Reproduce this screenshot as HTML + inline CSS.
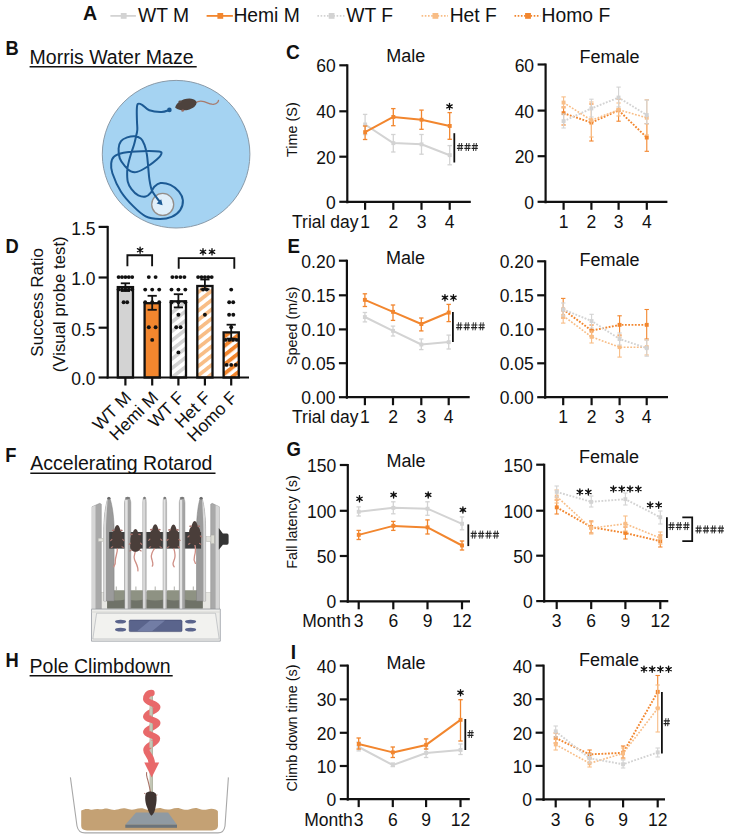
<!DOCTYPE html>
<html><head><meta charset="utf-8"><title>Figure</title>
<style>html,body{margin:0;padding:0;background:#fff;}svg{display:block;}text{font-family:"Liberation Sans",sans-serif;}</style>
</head><body>
<svg width="730" height="840" viewBox="0 0 730 840" font-family="Liberation Sans, sans-serif">
<rect width="730" height="840" fill="#fff"/>
<text x="0" y="0" font-size="19.6" font-weight="bold" fill="#111" transform="translate(83.0,20.3) scale(1.0,1)">A</text>
<line x1="110.4" y1="15.9" x2="135.9" y2="15.9" stroke="#d3d3d3" stroke-width="1.8" />
<rect x="120.8" y="13.0" width="5.8" height="5.8" fill="#d3d3d3"/>
<text x="138.0" y="22.2" font-size="19.3" text-anchor="start" font-weight="normal" fill="#111" >WT M</text>
<line x1="206.6" y1="15.9" x2="232.9" y2="15.9" stroke="#f2862e" stroke-width="1.8" />
<rect x="217.4" y="13.0" width="5.8" height="5.8" fill="#f2862e"/>
<text x="233.4" y="22.2" font-size="19.3" text-anchor="start" font-weight="normal" fill="#111" >Hemi M</text>
<line x1="317.4" y1="15.9" x2="344.5" y2="15.9" stroke="#d3d3d3" stroke-width="1.8" stroke-dasharray="1.6 1.6"/>
<rect x="328.7" y="13.0" width="5.8" height="5.8" fill="#d3d3d3"/>
<text x="346.2" y="22.2" font-size="19.3" text-anchor="start" font-weight="normal" fill="#111" >WT F</text>
<line x1="421.6" y1="15.9" x2="448.0" y2="15.9" stroke="#f8bd86" stroke-width="1.8" stroke-dasharray="1.6 1.6"/>
<rect x="432.5" y="13.0" width="5.8" height="5.8" fill="#f8bd86"/>
<text x="449.7" y="22.2" font-size="19.3" text-anchor="start" font-weight="normal" fill="#111" >Het F</text>
<line x1="514.5" y1="15.9" x2="540.3" y2="15.9" stroke="#f2862e" stroke-width="1.8" stroke-dasharray="1.6 1.6"/>
<rect x="525.1" y="13.0" width="5.8" height="5.8" fill="#f2862e"/>
<text x="541.6" y="22.2" font-size="19.3" text-anchor="start" font-weight="normal" fill="#111" >Homo F</text>
<text x="0" y="0" font-size="20.8" font-weight="bold" fill="#111" transform="translate(5.6,55.3) scale(0.88,1)">B</text>
<text x="29.6" y="64.1" font-size="19.5" text-anchor="start" font-weight="normal" fill="#111" >Morris Water Maze</text>
<line x1="29.6" y1="66.8" x2="196.7" y2="66.8" stroke="#111" stroke-width="1.6" />
<text x="0" y="0" font-size="20.8" font-weight="bold" fill="#111" transform="translate(5.2,462.0) scale(0.88,1)">F</text>
<text x="30.3" y="469.6" font-size="19.5" text-anchor="start" font-weight="normal" fill="#111" >Accelerating Rotarod</text>
<line x1="30.3" y1="473.2" x2="215.5" y2="473.2" stroke="#111" stroke-width="1.6" />
<text x="0" y="0" font-size="20.8" font-weight="bold" fill="#111" transform="translate(5.5,667.1) scale(0.88,1)">H</text>
<text x="29.6" y="672.8" font-size="19.5" text-anchor="start" font-weight="normal" fill="#111" >Pole Climbdown</text>
<line x1="29.6" y1="675.8" x2="172.7" y2="675.8" stroke="#111" stroke-width="1.6" />
<text x="0" y="0" font-size="20.8" font-weight="bold" fill="#111" transform="translate(286.0,59.0) scale(0.92,1)">C</text>
<text x="386.2" y="61.5" font-size="18" text-anchor="start" font-weight="normal" fill="#111" >Male</text>
<text x="579.5" y="62.6" font-size="18" text-anchor="start" font-weight="normal" fill="#111" >Female</text>
<line x1="347.3" y1="64.3" x2="347.3" y2="203.3" stroke="#111" stroke-width="2.2" />
<line x1="346.3" y1="201.8" x2="470.8" y2="201.8" stroke="#111" stroke-width="2.2" />
<line x1="339.3" y1="65.3" x2="347.3" y2="65.3" stroke="#111" stroke-width="2.2" />
<text x="335.8" y="72.3" font-size="17.5" text-anchor="end" font-weight="normal" fill="#111" >60</text>
<line x1="339.3" y1="111.3" x2="347.3" y2="111.3" stroke="#111" stroke-width="2.2" />
<text x="335.8" y="118.3" font-size="17.5" text-anchor="end" font-weight="normal" fill="#111" >40</text>
<line x1="339.3" y1="156.7" x2="347.3" y2="156.7" stroke="#111" stroke-width="2.2" />
<text x="335.8" y="163.7" font-size="17.5" text-anchor="end" font-weight="normal" fill="#111" >20</text>
<line x1="339.3" y1="201.8" x2="347.3" y2="201.8" stroke="#111" stroke-width="2.2" />
<text x="335.8" y="208.8" font-size="17.5" text-anchor="end" font-weight="normal" fill="#111" >0</text>
<line x1="365.1" y1="201.8" x2="365.1" y2="209.8" stroke="#111" stroke-width="2.2" />
<text x="365.1" y="228.2" font-size="17.5" text-anchor="middle" font-weight="normal" fill="#111" >1</text>
<line x1="393.3" y1="201.8" x2="393.3" y2="209.8" stroke="#111" stroke-width="2.2" />
<text x="393.3" y="228.2" font-size="17.5" text-anchor="middle" font-weight="normal" fill="#111" >2</text>
<line x1="421.5" y1="201.8" x2="421.5" y2="209.8" stroke="#111" stroke-width="2.2" />
<text x="421.5" y="228.2" font-size="17.5" text-anchor="middle" font-weight="normal" fill="#111" >3</text>
<line x1="449.7" y1="201.8" x2="449.7" y2="209.8" stroke="#111" stroke-width="2.2" />
<text x="449.7" y="228.2" font-size="17.5" text-anchor="middle" font-weight="normal" fill="#111" >4</text>
<text x="358.5" y="228.2" font-size="17.5" text-anchor="end" font-weight="normal" fill="#111" >Trial day</text>
<text x="0" y="0" font-size="14.4" text-anchor="middle" fill="#111" transform="translate(297.0,129.6) rotate(-90)">Time (S)</text>
<line x1="365.1" y1="114.4" x2="365.1" y2="134.6" stroke="#d3d3d3" stroke-width="1.3" />
<line x1="362.9" y1="114.4" x2="367.3" y2="114.4" stroke="#d3d3d3" stroke-width="1.3" />
<line x1="362.9" y1="134.6" x2="367.3" y2="134.6" stroke="#d3d3d3" stroke-width="1.3" />
<line x1="393.3" y1="134.5" x2="393.3" y2="152.0" stroke="#d3d3d3" stroke-width="1.3" />
<line x1="391.1" y1="134.5" x2="395.5" y2="134.5" stroke="#d3d3d3" stroke-width="1.3" />
<line x1="391.1" y1="152.0" x2="395.5" y2="152.0" stroke="#d3d3d3" stroke-width="1.3" />
<line x1="421.5" y1="134.5" x2="421.5" y2="154.2" stroke="#d3d3d3" stroke-width="1.3" />
<line x1="419.3" y1="134.5" x2="423.7" y2="134.5" stroke="#d3d3d3" stroke-width="1.3" />
<line x1="419.3" y1="154.2" x2="423.7" y2="154.2" stroke="#d3d3d3" stroke-width="1.3" />
<line x1="449.7" y1="145.6" x2="449.7" y2="164.8" stroke="#d3d3d3" stroke-width="1.3" />
<line x1="447.5" y1="145.6" x2="451.9" y2="145.6" stroke="#d3d3d3" stroke-width="1.3" />
<line x1="447.5" y1="164.8" x2="451.9" y2="164.8" stroke="#d3d3d3" stroke-width="1.3" />
<polyline points="365.1,124.5 393.3,143.1 421.5,144.3 449.7,155.2" fill="none" stroke="#d3d3d3" stroke-width="2.0"  stroke-linejoin="round"/>
<rect x="363.2" y="122.5" width="3.9" height="3.9" fill="#d3d3d3"/>
<rect x="391.4" y="141.2" width="3.9" height="3.9" fill="#d3d3d3"/>
<rect x="419.6" y="142.4" width="3.9" height="3.9" fill="#d3d3d3"/>
<rect x="447.8" y="153.2" width="3.9" height="3.9" fill="#d3d3d3"/>
<line x1="365.1" y1="126.0" x2="365.1" y2="139.5" stroke="#f2862e" stroke-width="1.3" />
<line x1="362.9" y1="126.0" x2="367.3" y2="126.0" stroke="#f2862e" stroke-width="1.3" />
<line x1="362.9" y1="139.5" x2="367.3" y2="139.5" stroke="#f2862e" stroke-width="1.3" />
<line x1="393.3" y1="108.6" x2="393.3" y2="125.7" stroke="#f2862e" stroke-width="1.3" />
<line x1="391.1" y1="108.6" x2="395.5" y2="108.6" stroke="#f2862e" stroke-width="1.3" />
<line x1="391.1" y1="125.7" x2="395.5" y2="125.7" stroke="#f2862e" stroke-width="1.3" />
<line x1="421.5" y1="110.1" x2="421.5" y2="129.3" stroke="#f2862e" stroke-width="1.3" />
<line x1="419.3" y1="110.1" x2="423.7" y2="110.1" stroke="#f2862e" stroke-width="1.3" />
<line x1="419.3" y1="129.3" x2="423.7" y2="129.3" stroke="#f2862e" stroke-width="1.3" />
<line x1="449.7" y1="112.6" x2="449.7" y2="139.3" stroke="#f2862e" stroke-width="1.3" />
<line x1="447.5" y1="112.6" x2="451.9" y2="112.6" stroke="#f2862e" stroke-width="1.3" />
<line x1="447.5" y1="139.3" x2="451.9" y2="139.3" stroke="#f2862e" stroke-width="1.3" />
<polyline points="365.1,132.2 393.3,116.9 421.5,119.7 449.7,125.9" fill="none" stroke="#f2862e" stroke-width="2.0"  stroke-linejoin="round"/>
<rect x="363.2" y="130.2" width="3.9" height="3.9" fill="#f2862e"/>
<rect x="391.4" y="115.0" width="3.9" height="3.9" fill="#f2862e"/>
<rect x="419.6" y="117.8" width="3.9" height="3.9" fill="#f2862e"/>
<rect x="447.8" y="124.0" width="3.9" height="3.9" fill="#f2862e"/>
<path d="M449.50,103.30L449.50,109.50M446.82,104.85L452.18,107.95M452.18,104.85L446.82,107.95" stroke="#111" stroke-width="1.35" stroke-linecap="round"/>
<circle cx="449.50" cy="106.40" r="1.35" fill="#111"/>
<line x1="454.3" y1="133.2" x2="454.3" y2="162.5" stroke="#111" stroke-width="1.8" />
<path d="M459.30,143.00L458.70,151.00M461.70,143.00L461.10,151.00" stroke="#2a2a2a" stroke-width="0.95"/>
<path d="M457.10,145.70L463.30,145.70M456.90,148.40L463.10,148.40" stroke="#222" stroke-width="1.2"/>
<path d="M466.65,143.00L466.05,151.00M469.05,143.00L468.45,151.00" stroke="#2a2a2a" stroke-width="0.95"/>
<path d="M464.45,145.70L470.65,145.70M464.25,148.40L470.45,148.40" stroke="#222" stroke-width="1.2"/>
<path d="M474.00,143.00L473.40,151.00M476.40,143.00L475.80,151.00" stroke="#2a2a2a" stroke-width="0.95"/>
<path d="M471.80,145.70L478.00,145.70M471.60,148.40L477.80,148.40" stroke="#222" stroke-width="1.2"/>
<line x1="545.6" y1="63.5" x2="545.6" y2="203.3" stroke="#111" stroke-width="2.2" />
<line x1="544.6" y1="201.8" x2="667.4" y2="201.8" stroke="#111" stroke-width="2.2" />
<line x1="537.6" y1="64.5" x2="545.6" y2="64.5" stroke="#111" stroke-width="2.2" />
<text x="534.1" y="71.5" font-size="17.5" text-anchor="end" font-weight="normal" fill="#111" >60</text>
<line x1="537.6" y1="110.6" x2="545.6" y2="110.6" stroke="#111" stroke-width="2.2" />
<text x="534.1" y="117.6" font-size="17.5" text-anchor="end" font-weight="normal" fill="#111" >40</text>
<line x1="537.6" y1="156.2" x2="545.6" y2="156.2" stroke="#111" stroke-width="2.2" />
<text x="534.1" y="163.2" font-size="17.5" text-anchor="end" font-weight="normal" fill="#111" >20</text>
<line x1="537.6" y1="201.8" x2="545.6" y2="201.8" stroke="#111" stroke-width="2.2" />
<text x="534.1" y="208.8" font-size="17.5" text-anchor="end" font-weight="normal" fill="#111" >0</text>
<line x1="563.6" y1="201.8" x2="563.6" y2="209.8" stroke="#111" stroke-width="2.2" />
<text x="563.6" y="228.2" font-size="17.5" text-anchor="middle" font-weight="normal" fill="#111" >1</text>
<line x1="591.4" y1="201.8" x2="591.4" y2="209.8" stroke="#111" stroke-width="2.2" />
<text x="591.4" y="228.2" font-size="17.5" text-anchor="middle" font-weight="normal" fill="#111" >2</text>
<line x1="618.6" y1="201.8" x2="618.6" y2="209.8" stroke="#111" stroke-width="2.2" />
<text x="618.6" y="228.2" font-size="17.5" text-anchor="middle" font-weight="normal" fill="#111" >3</text>
<line x1="646.8" y1="201.8" x2="646.8" y2="209.8" stroke="#111" stroke-width="2.2" />
<text x="646.8" y="228.2" font-size="17.5" text-anchor="middle" font-weight="normal" fill="#111" >4</text>
<line x1="563.6" y1="107.0" x2="563.6" y2="125.0" stroke="#f2862e" stroke-width="1.1" />
<line x1="561.4" y1="107.0" x2="565.8" y2="107.0" stroke="#f2862e" stroke-width="1.1" />
<line x1="561.4" y1="125.0" x2="565.8" y2="125.0" stroke="#f2862e" stroke-width="1.1" />
<line x1="591.4" y1="104.0" x2="591.4" y2="141.0" stroke="#f2862e" stroke-width="1.1" />
<line x1="589.2" y1="104.0" x2="593.6" y2="104.0" stroke="#f2862e" stroke-width="1.1" />
<line x1="589.2" y1="141.0" x2="593.6" y2="141.0" stroke="#f2862e" stroke-width="1.1" />
<line x1="618.6" y1="99.0" x2="618.6" y2="121.2" stroke="#f2862e" stroke-width="1.1" />
<line x1="616.4" y1="99.0" x2="620.8" y2="99.0" stroke="#f2862e" stroke-width="1.1" />
<line x1="616.4" y1="121.2" x2="620.8" y2="121.2" stroke="#f2862e" stroke-width="1.1" />
<line x1="646.8" y1="123.7" x2="646.8" y2="151.3" stroke="#f2862e" stroke-width="1.1" />
<line x1="644.6" y1="123.7" x2="649.0" y2="123.7" stroke="#f2862e" stroke-width="1.1" />
<line x1="644.6" y1="151.3" x2="649.0" y2="151.3" stroke="#f2862e" stroke-width="1.1" />
<polyline points="563.6,113.2 591.4,122.6 618.6,110.3 646.8,137.5" fill="none" stroke="#f2862e" stroke-width="1.9" stroke-dasharray="1.8 1.5" stroke-linejoin="round"/>
<rect x="561.6" y="111.2" width="3.9" height="3.9" fill="#f2862e"/>
<rect x="589.4" y="120.6" width="3.9" height="3.9" fill="#f2862e"/>
<rect x="616.6" y="108.3" width="3.9" height="3.9" fill="#f2862e"/>
<rect x="644.8" y="135.6" width="3.9" height="3.9" fill="#f2862e"/>
<line x1="563.6" y1="96.9" x2="563.6" y2="108.0" stroke="#f8bd86" stroke-width="1.1" />
<line x1="561.4" y1="96.9" x2="565.8" y2="96.9" stroke="#f8bd86" stroke-width="1.1" />
<line x1="561.4" y1="108.0" x2="565.8" y2="108.0" stroke="#f8bd86" stroke-width="1.1" />
<line x1="591.4" y1="102.0" x2="591.4" y2="137.0" stroke="#f8bd86" stroke-width="1.1" />
<line x1="589.2" y1="102.0" x2="593.6" y2="102.0" stroke="#f8bd86" stroke-width="1.1" />
<line x1="589.2" y1="137.0" x2="593.6" y2="137.0" stroke="#f8bd86" stroke-width="1.1" />
<line x1="618.6" y1="103.0" x2="618.6" y2="116.0" stroke="#f8bd86" stroke-width="1.1" />
<line x1="616.4" y1="103.0" x2="620.8" y2="103.0" stroke="#f8bd86" stroke-width="1.1" />
<line x1="616.4" y1="116.0" x2="620.8" y2="116.0" stroke="#f8bd86" stroke-width="1.1" />
<line x1="646.8" y1="99.8" x2="646.8" y2="135.0" stroke="#f8bd86" stroke-width="1.1" />
<line x1="644.6" y1="99.8" x2="649.0" y2="99.8" stroke="#f8bd86" stroke-width="1.1" />
<line x1="644.6" y1="135.0" x2="649.0" y2="135.0" stroke="#f8bd86" stroke-width="1.1" />
<polyline points="563.6,102.6 591.4,120.3 618.6,109.7 646.8,117.8" fill="none" stroke="#f8bd86" stroke-width="1.6" stroke-dasharray="1.8 1.5" stroke-linejoin="round"/>
<rect x="561.6" y="100.6" width="3.9" height="3.9" fill="#f8bd86"/>
<rect x="589.4" y="118.3" width="3.9" height="3.9" fill="#f8bd86"/>
<rect x="616.6" y="107.8" width="3.9" height="3.9" fill="#f8bd86"/>
<rect x="644.8" y="115.8" width="3.9" height="3.9" fill="#f8bd86"/>
<line x1="563.6" y1="114.0" x2="563.6" y2="128.0" stroke="#d3d3d3" stroke-width="1.1" />
<line x1="561.4" y1="114.0" x2="565.8" y2="114.0" stroke="#d3d3d3" stroke-width="1.1" />
<line x1="561.4" y1="128.0" x2="565.8" y2="128.0" stroke="#d3d3d3" stroke-width="1.1" />
<line x1="591.4" y1="99.2" x2="591.4" y2="117.0" stroke="#d3d3d3" stroke-width="1.1" />
<line x1="589.2" y1="99.2" x2="593.6" y2="99.2" stroke="#d3d3d3" stroke-width="1.1" />
<line x1="589.2" y1="117.0" x2="593.6" y2="117.0" stroke="#d3d3d3" stroke-width="1.1" />
<line x1="618.6" y1="87.1" x2="618.6" y2="106.9" stroke="#d3d3d3" stroke-width="1.1" />
<line x1="616.4" y1="87.1" x2="620.8" y2="87.1" stroke="#d3d3d3" stroke-width="1.1" />
<line x1="616.4" y1="106.9" x2="620.8" y2="106.9" stroke="#d3d3d3" stroke-width="1.1" />
<line x1="646.8" y1="100.1" x2="646.8" y2="123.7" stroke="#d3d3d3" stroke-width="1.1" />
<line x1="644.6" y1="100.1" x2="649.0" y2="100.1" stroke="#d3d3d3" stroke-width="1.1" />
<line x1="644.6" y1="123.7" x2="649.0" y2="123.7" stroke="#d3d3d3" stroke-width="1.1" />
<polyline points="563.6,121.2 591.4,108.4 618.6,97.6 646.8,115.1" fill="none" stroke="#d3d3d3" stroke-width="1.9" stroke-dasharray="1.8 1.5" stroke-linejoin="round"/>
<rect x="561.6" y="119.2" width="3.9" height="3.9" fill="#d3d3d3"/>
<rect x="589.4" y="106.5" width="3.9" height="3.9" fill="#d3d3d3"/>
<rect x="616.6" y="95.6" width="3.9" height="3.9" fill="#d3d3d3"/>
<rect x="644.8" y="113.1" width="3.9" height="3.9" fill="#d3d3d3"/>
<text x="0" y="0" font-size="20.8" font-weight="bold" fill="#111" transform="translate(287.6,252.6) scale(0.9,1)">E</text>
<text x="386.0" y="264.3" font-size="18" text-anchor="start" font-weight="normal" fill="#111" >Male</text>
<text x="579.6" y="265.8" font-size="18" text-anchor="start" font-weight="normal" fill="#111" >Female</text>
<line x1="346.9" y1="259.7" x2="346.9" y2="398.7" stroke="#111" stroke-width="2.2" />
<line x1="345.9" y1="397.2" x2="469.7" y2="397.2" stroke="#111" stroke-width="2.2" />
<line x1="338.9" y1="260.7" x2="346.9" y2="260.7" stroke="#111" stroke-width="2.2" />
<text x="335.4" y="267.7" font-size="17.5" text-anchor="end" font-weight="normal" fill="#111" >0.20</text>
<line x1="338.9" y1="295.3" x2="346.9" y2="295.3" stroke="#111" stroke-width="2.2" />
<text x="335.4" y="302.3" font-size="17.5" text-anchor="end" font-weight="normal" fill="#111" >0.15</text>
<line x1="338.9" y1="329.4" x2="346.9" y2="329.4" stroke="#111" stroke-width="2.2" />
<text x="335.4" y="336.4" font-size="17.5" text-anchor="end" font-weight="normal" fill="#111" >0.10</text>
<line x1="338.9" y1="363.2" x2="346.9" y2="363.2" stroke="#111" stroke-width="2.2" />
<text x="335.4" y="370.2" font-size="17.5" text-anchor="end" font-weight="normal" fill="#111" >0.05</text>
<line x1="338.9" y1="397.2" x2="346.9" y2="397.2" stroke="#111" stroke-width="2.2" />
<text x="335.4" y="404.2" font-size="17.5" text-anchor="end" font-weight="normal" fill="#111" >0.00</text>
<line x1="364.9" y1="397.2" x2="364.9" y2="405.2" stroke="#111" stroke-width="2.2" />
<text x="364.9" y="423.2" font-size="17.5" text-anchor="middle" font-weight="normal" fill="#111" >1</text>
<line x1="393.0" y1="397.2" x2="393.0" y2="405.2" stroke="#111" stroke-width="2.2" />
<text x="393.0" y="423.2" font-size="17.5" text-anchor="middle" font-weight="normal" fill="#111" >2</text>
<line x1="421.3" y1="397.2" x2="421.3" y2="405.2" stroke="#111" stroke-width="2.2" />
<text x="421.3" y="423.2" font-size="17.5" text-anchor="middle" font-weight="normal" fill="#111" >3</text>
<line x1="448.7" y1="397.2" x2="448.7" y2="405.2" stroke="#111" stroke-width="2.2" />
<text x="448.7" y="423.2" font-size="17.5" text-anchor="middle" font-weight="normal" fill="#111" >4</text>
<text x="358.5" y="423.2" font-size="17.5" text-anchor="end" font-weight="normal" fill="#111" >Trial day</text>
<text x="0" y="0" font-size="14.4" text-anchor="middle" fill="#111" transform="translate(297.0,326.0) rotate(-90)">Speed (m/s)</text>
<line x1="364.9" y1="312.5" x2="364.9" y2="321.9" stroke="#d3d3d3" stroke-width="1.3" />
<line x1="362.7" y1="312.5" x2="367.1" y2="312.5" stroke="#d3d3d3" stroke-width="1.3" />
<line x1="362.7" y1="321.9" x2="367.1" y2="321.9" stroke="#d3d3d3" stroke-width="1.3" />
<line x1="393.0" y1="326.1" x2="393.0" y2="336.0" stroke="#d3d3d3" stroke-width="1.3" />
<line x1="390.8" y1="326.1" x2="395.2" y2="326.1" stroke="#d3d3d3" stroke-width="1.3" />
<line x1="390.8" y1="336.0" x2="395.2" y2="336.0" stroke="#d3d3d3" stroke-width="1.3" />
<line x1="421.3" y1="339.0" x2="421.3" y2="349.6" stroke="#d3d3d3" stroke-width="1.3" />
<line x1="419.1" y1="339.0" x2="423.5" y2="339.0" stroke="#d3d3d3" stroke-width="1.3" />
<line x1="419.1" y1="349.6" x2="423.5" y2="349.6" stroke="#d3d3d3" stroke-width="1.3" />
<line x1="448.7" y1="335.1" x2="448.7" y2="349.0" stroke="#d3d3d3" stroke-width="1.3" />
<line x1="446.5" y1="335.1" x2="450.9" y2="335.1" stroke="#d3d3d3" stroke-width="1.3" />
<line x1="446.5" y1="349.0" x2="450.9" y2="349.0" stroke="#d3d3d3" stroke-width="1.3" />
<polyline points="364.9,317.0 393.0,330.9 421.3,344.5 448.7,342.1" fill="none" stroke="#d3d3d3" stroke-width="2.0"  stroke-linejoin="round"/>
<rect x="362.9" y="315.1" width="3.9" height="3.9" fill="#d3d3d3"/>
<rect x="391.1" y="328.9" width="3.9" height="3.9" fill="#d3d3d3"/>
<rect x="419.4" y="342.6" width="3.9" height="3.9" fill="#d3d3d3"/>
<rect x="446.8" y="340.2" width="3.9" height="3.9" fill="#d3d3d3"/>
<line x1="364.9" y1="293.8" x2="364.9" y2="306.5" stroke="#f2862e" stroke-width="1.3" />
<line x1="362.7" y1="293.8" x2="367.1" y2="293.8" stroke="#f2862e" stroke-width="1.3" />
<line x1="362.7" y1="306.5" x2="367.1" y2="306.5" stroke="#f2862e" stroke-width="1.3" />
<line x1="393.0" y1="305.0" x2="393.0" y2="320.4" stroke="#f2862e" stroke-width="1.3" />
<line x1="390.8" y1="305.0" x2="395.2" y2="305.0" stroke="#f2862e" stroke-width="1.3" />
<line x1="390.8" y1="320.4" x2="395.2" y2="320.4" stroke="#f2862e" stroke-width="1.3" />
<line x1="421.3" y1="318.0" x2="421.3" y2="330.9" stroke="#f2862e" stroke-width="1.3" />
<line x1="419.1" y1="318.0" x2="423.5" y2="318.0" stroke="#f2862e" stroke-width="1.3" />
<line x1="419.1" y1="330.9" x2="423.5" y2="330.9" stroke="#f2862e" stroke-width="1.3" />
<line x1="448.7" y1="304.4" x2="448.7" y2="321.6" stroke="#f2862e" stroke-width="1.3" />
<line x1="446.5" y1="304.4" x2="450.9" y2="304.4" stroke="#f2862e" stroke-width="1.3" />
<line x1="446.5" y1="321.6" x2="450.9" y2="321.6" stroke="#f2862e" stroke-width="1.3" />
<polyline points="364.9,299.9 393.0,311.9 421.3,324.0 448.7,312.5" fill="none" stroke="#f2862e" stroke-width="2.0"  stroke-linejoin="round"/>
<rect x="362.9" y="297.9" width="3.9" height="3.9" fill="#f2862e"/>
<rect x="391.1" y="309.9" width="3.9" height="3.9" fill="#f2862e"/>
<rect x="419.4" y="322.1" width="3.9" height="3.9" fill="#f2862e"/>
<rect x="446.8" y="310.6" width="3.9" height="3.9" fill="#f2862e"/>
<path d="M444.95,294.60L444.95,300.80M442.27,296.15L447.63,299.25M447.63,296.15L442.27,299.25" stroke="#111" stroke-width="1.35" stroke-linecap="round"/>
<circle cx="444.95" cy="297.70" r="1.35" fill="#111"/>
<path d="M453.45,294.60L453.45,300.80M450.77,296.15L456.13,299.25M456.13,296.15L450.77,299.25" stroke="#111" stroke-width="1.35" stroke-linecap="round"/>
<circle cx="453.45" cy="297.70" r="1.35" fill="#111"/>
<line x1="452.9" y1="311.9" x2="452.9" y2="342.1" stroke="#111" stroke-width="1.8" />
<path d="M458.50,322.30L457.90,330.30M460.90,322.30L460.30,330.30" stroke="#2a2a2a" stroke-width="0.95"/>
<path d="M456.30,325.00L462.50,325.00M456.10,327.70L462.30,327.70" stroke="#222" stroke-width="1.2"/>
<path d="M465.95,322.30L465.35,330.30M468.35,322.30L467.75,330.30" stroke="#2a2a2a" stroke-width="0.95"/>
<path d="M463.75,325.00L469.95,325.00M463.55,327.70L469.75,327.70" stroke="#222" stroke-width="1.2"/>
<path d="M473.40,322.30L472.80,330.30M475.80,322.30L475.20,330.30" stroke="#2a2a2a" stroke-width="0.95"/>
<path d="M471.20,325.00L477.40,325.00M471.00,327.70L477.20,327.70" stroke="#222" stroke-width="1.2"/>
<path d="M480.85,322.30L480.25,330.30M483.25,322.30L482.65,330.30" stroke="#2a2a2a" stroke-width="0.95"/>
<path d="M478.65,325.00L484.85,325.00M478.45,327.70L484.65,327.70" stroke="#222" stroke-width="1.2"/>
<line x1="545.2" y1="260.3" x2="545.2" y2="398.7" stroke="#111" stroke-width="2.2" />
<line x1="544.2" y1="397.2" x2="668.0" y2="397.2" stroke="#111" stroke-width="2.2" />
<line x1="537.2" y1="261.3" x2="545.2" y2="261.3" stroke="#111" stroke-width="2.2" />
<text x="533.7" y="268.3" font-size="17.5" text-anchor="end" font-weight="normal" fill="#111" >0.20</text>
<line x1="537.2" y1="295.3" x2="545.2" y2="295.3" stroke="#111" stroke-width="2.2" />
<text x="533.7" y="302.3" font-size="17.5" text-anchor="end" font-weight="normal" fill="#111" >0.15</text>
<line x1="537.2" y1="329.3" x2="545.2" y2="329.3" stroke="#111" stroke-width="2.2" />
<text x="533.7" y="336.3" font-size="17.5" text-anchor="end" font-weight="normal" fill="#111" >0.10</text>
<line x1="537.2" y1="363.3" x2="545.2" y2="363.3" stroke="#111" stroke-width="2.2" />
<text x="533.7" y="370.3" font-size="17.5" text-anchor="end" font-weight="normal" fill="#111" >0.05</text>
<line x1="537.2" y1="397.2" x2="545.2" y2="397.2" stroke="#111" stroke-width="2.2" />
<text x="533.7" y="404.2" font-size="17.5" text-anchor="end" font-weight="normal" fill="#111" >0.00</text>
<line x1="563.2" y1="397.2" x2="563.2" y2="405.2" stroke="#111" stroke-width="2.2" />
<text x="563.2" y="423.2" font-size="17.5" text-anchor="middle" font-weight="normal" fill="#111" >1</text>
<line x1="591.6" y1="397.2" x2="591.6" y2="405.2" stroke="#111" stroke-width="2.2" />
<text x="591.6" y="423.2" font-size="17.5" text-anchor="middle" font-weight="normal" fill="#111" >2</text>
<line x1="619.6" y1="397.2" x2="619.6" y2="405.2" stroke="#111" stroke-width="2.2" />
<text x="619.6" y="423.2" font-size="17.5" text-anchor="middle" font-weight="normal" fill="#111" >3</text>
<line x1="646.7" y1="397.2" x2="646.7" y2="405.2" stroke="#111" stroke-width="2.2" />
<text x="646.7" y="423.2" font-size="17.5" text-anchor="middle" font-weight="normal" fill="#111" >4</text>
<line x1="563.2" y1="298.4" x2="563.2" y2="318.0" stroke="#f2862e" stroke-width="1.1" />
<line x1="561.0" y1="298.4" x2="565.4" y2="298.4" stroke="#f2862e" stroke-width="1.1" />
<line x1="561.0" y1="318.0" x2="565.4" y2="318.0" stroke="#f2862e" stroke-width="1.1" />
<line x1="591.6" y1="325.0" x2="591.6" y2="336.0" stroke="#f2862e" stroke-width="1.1" />
<line x1="589.4" y1="325.0" x2="593.8" y2="325.0" stroke="#f2862e" stroke-width="1.1" />
<line x1="589.4" y1="336.0" x2="593.8" y2="336.0" stroke="#f2862e" stroke-width="1.1" />
<line x1="619.6" y1="315.8" x2="619.6" y2="335.1" stroke="#f2862e" stroke-width="1.1" />
<line x1="617.4" y1="315.8" x2="621.8" y2="315.8" stroke="#f2862e" stroke-width="1.1" />
<line x1="617.4" y1="335.1" x2="621.8" y2="335.1" stroke="#f2862e" stroke-width="1.1" />
<line x1="646.7" y1="309.5" x2="646.7" y2="339.0" stroke="#f2862e" stroke-width="1.1" />
<line x1="644.5" y1="309.5" x2="648.9" y2="309.5" stroke="#f2862e" stroke-width="1.1" />
<line x1="644.5" y1="339.0" x2="648.9" y2="339.0" stroke="#f2862e" stroke-width="1.1" />
<polyline points="563.2,309.5 591.6,330.6 619.6,324.9 646.7,324.9" fill="none" stroke="#f2862e" stroke-width="1.9" stroke-dasharray="1.8 1.5" stroke-linejoin="round"/>
<rect x="561.2" y="307.6" width="3.9" height="3.9" fill="#f2862e"/>
<rect x="589.6" y="328.7" width="3.9" height="3.9" fill="#f2862e"/>
<rect x="617.6" y="322.9" width="3.9" height="3.9" fill="#f2862e"/>
<rect x="644.8" y="322.9" width="3.9" height="3.9" fill="#f2862e"/>
<line x1="563.2" y1="309.0" x2="563.2" y2="323.1" stroke="#f8bd86" stroke-width="1.1" />
<line x1="561.0" y1="309.0" x2="565.4" y2="309.0" stroke="#f8bd86" stroke-width="1.1" />
<line x1="561.0" y1="323.1" x2="565.4" y2="323.1" stroke="#f8bd86" stroke-width="1.1" />
<line x1="591.6" y1="331.0" x2="591.6" y2="343.0" stroke="#f8bd86" stroke-width="1.1" />
<line x1="589.4" y1="331.0" x2="593.8" y2="331.0" stroke="#f8bd86" stroke-width="1.1" />
<line x1="589.4" y1="343.0" x2="593.8" y2="343.0" stroke="#f8bd86" stroke-width="1.1" />
<line x1="619.6" y1="337.0" x2="619.6" y2="357.1" stroke="#f8bd86" stroke-width="1.1" />
<line x1="617.4" y1="337.0" x2="621.8" y2="337.0" stroke="#f8bd86" stroke-width="1.1" />
<line x1="617.4" y1="357.1" x2="621.8" y2="357.1" stroke="#f8bd86" stroke-width="1.1" />
<line x1="646.7" y1="340.0" x2="646.7" y2="355.0" stroke="#f8bd86" stroke-width="1.1" />
<line x1="644.5" y1="340.0" x2="648.9" y2="340.0" stroke="#f8bd86" stroke-width="1.1" />
<line x1="644.5" y1="355.0" x2="648.9" y2="355.0" stroke="#f8bd86" stroke-width="1.1" />
<polyline points="563.2,315.8 591.6,336.9 619.6,347.2 646.7,347.2" fill="none" stroke="#f8bd86" stroke-width="1.6" stroke-dasharray="1.8 1.5" stroke-linejoin="round"/>
<rect x="561.2" y="313.9" width="3.9" height="3.9" fill="#f8bd86"/>
<rect x="589.6" y="334.9" width="3.9" height="3.9" fill="#f8bd86"/>
<rect x="617.6" y="345.2" width="3.9" height="3.9" fill="#f8bd86"/>
<rect x="644.8" y="345.2" width="3.9" height="3.9" fill="#f8bd86"/>
<line x1="563.2" y1="303.0" x2="563.2" y2="316.0" stroke="#d3d3d3" stroke-width="1.1" />
<line x1="561.0" y1="303.0" x2="565.4" y2="303.0" stroke="#d3d3d3" stroke-width="1.1" />
<line x1="561.0" y1="316.0" x2="565.4" y2="316.0" stroke="#d3d3d3" stroke-width="1.1" />
<line x1="591.6" y1="314.3" x2="591.6" y2="328.0" stroke="#d3d3d3" stroke-width="1.1" />
<line x1="589.4" y1="314.3" x2="593.8" y2="314.3" stroke="#d3d3d3" stroke-width="1.1" />
<line x1="589.4" y1="328.0" x2="593.8" y2="328.0" stroke="#d3d3d3" stroke-width="1.1" />
<line x1="619.6" y1="333.0" x2="619.6" y2="345.0" stroke="#d3d3d3" stroke-width="1.1" />
<line x1="617.4" y1="333.0" x2="621.8" y2="333.0" stroke="#d3d3d3" stroke-width="1.1" />
<line x1="617.4" y1="345.0" x2="621.8" y2="345.0" stroke="#d3d3d3" stroke-width="1.1" />
<line x1="646.7" y1="340.0" x2="646.7" y2="356.2" stroke="#d3d3d3" stroke-width="1.1" />
<line x1="644.5" y1="340.0" x2="648.9" y2="340.0" stroke="#d3d3d3" stroke-width="1.1" />
<line x1="644.5" y1="356.2" x2="648.9" y2="356.2" stroke="#d3d3d3" stroke-width="1.1" />
<polyline points="563.2,309.5 591.6,321.0 619.6,339.0 646.7,348.1" fill="none" stroke="#d3d3d3" stroke-width="1.9" stroke-dasharray="1.8 1.5" stroke-linejoin="round"/>
<rect x="561.2" y="307.6" width="3.9" height="3.9" fill="#d3d3d3"/>
<rect x="589.6" y="319.1" width="3.9" height="3.9" fill="#d3d3d3"/>
<rect x="617.6" y="337.1" width="3.9" height="3.9" fill="#d3d3d3"/>
<rect x="644.8" y="346.2" width="3.9" height="3.9" fill="#d3d3d3"/>
<text x="0" y="0" font-size="20.8" font-weight="bold" fill="#111" transform="translate(286.4,456.4) scale(0.89,1)">G</text>
<text x="386.6" y="466.5" font-size="18" text-anchor="start" font-weight="normal" fill="#111" >Male</text>
<text x="579.0" y="463.0" font-size="18" text-anchor="start" font-weight="normal" fill="#111" >Female</text>
<line x1="347.8" y1="464.0" x2="347.8" y2="602.8" stroke="#111" stroke-width="2.2" />
<line x1="346.8" y1="601.3" x2="470.0" y2="601.3" stroke="#111" stroke-width="2.2" />
<line x1="339.8" y1="465.0" x2="347.8" y2="465.0" stroke="#111" stroke-width="2.2" />
<text x="336.3" y="472.0" font-size="17.5" text-anchor="end" font-weight="normal" fill="#111" >150</text>
<line x1="339.8" y1="510.8" x2="347.8" y2="510.8" stroke="#111" stroke-width="2.2" />
<text x="336.3" y="517.8" font-size="17.5" text-anchor="end" font-weight="normal" fill="#111" >100</text>
<line x1="339.8" y1="556.0" x2="347.8" y2="556.0" stroke="#111" stroke-width="2.2" />
<text x="336.3" y="563.0" font-size="17.5" text-anchor="end" font-weight="normal" fill="#111" >50</text>
<line x1="339.8" y1="601.3" x2="347.8" y2="601.3" stroke="#111" stroke-width="2.2" />
<text x="336.3" y="608.3" font-size="17.5" text-anchor="end" font-weight="normal" fill="#111" >0</text>
<line x1="358.7" y1="601.3" x2="358.7" y2="609.3" stroke="#111" stroke-width="2.2" />
<text x="358.7" y="626.6" font-size="17.5" text-anchor="middle" font-weight="normal" fill="#111" >3</text>
<line x1="393.3" y1="601.3" x2="393.3" y2="609.3" stroke="#111" stroke-width="2.2" />
<text x="393.3" y="626.6" font-size="17.5" text-anchor="middle" font-weight="normal" fill="#111" >6</text>
<line x1="427.5" y1="601.3" x2="427.5" y2="609.3" stroke="#111" stroke-width="2.2" />
<text x="427.5" y="626.6" font-size="17.5" text-anchor="middle" font-weight="normal" fill="#111" >9</text>
<line x1="462.0" y1="601.3" x2="462.0" y2="609.3" stroke="#111" stroke-width="2.2" />
<text x="462.0" y="626.6" font-size="17.5" text-anchor="middle" font-weight="normal" fill="#111" >12</text>
<text x="350.9" y="626.6" font-size="17.5" text-anchor="end" font-weight="normal" fill="#111" >Month</text>
<text x="0" y="0" font-size="14.4" text-anchor="middle" fill="#111" transform="translate(297.0,522.0) rotate(-90)">Fall latency (s)</text>
<line x1="358.7" y1="506.9" x2="358.7" y2="516.0" stroke="#d3d3d3" stroke-width="1.3" />
<line x1="356.5" y1="506.9" x2="360.9" y2="506.9" stroke="#d3d3d3" stroke-width="1.3" />
<line x1="356.5" y1="516.0" x2="360.9" y2="516.0" stroke="#d3d3d3" stroke-width="1.3" />
<line x1="393.3" y1="501.8" x2="393.3" y2="513.8" stroke="#d3d3d3" stroke-width="1.3" />
<line x1="391.1" y1="501.8" x2="395.5" y2="501.8" stroke="#d3d3d3" stroke-width="1.3" />
<line x1="391.1" y1="513.8" x2="395.5" y2="513.8" stroke="#d3d3d3" stroke-width="1.3" />
<line x1="427.5" y1="501.8" x2="427.5" y2="515.3" stroke="#d3d3d3" stroke-width="1.3" />
<line x1="425.3" y1="501.8" x2="429.7" y2="501.8" stroke="#d3d3d3" stroke-width="1.3" />
<line x1="425.3" y1="515.3" x2="429.7" y2="515.3" stroke="#d3d3d3" stroke-width="1.3" />
<line x1="462.0" y1="516.9" x2="462.0" y2="529.8" stroke="#d3d3d3" stroke-width="1.3" />
<line x1="459.8" y1="516.9" x2="464.2" y2="516.9" stroke="#d3d3d3" stroke-width="1.3" />
<line x1="459.8" y1="529.8" x2="464.2" y2="529.8" stroke="#d3d3d3" stroke-width="1.3" />
<polyline points="358.7,511.7 393.3,507.8 427.5,508.7 462.0,523.8" fill="none" stroke="#d3d3d3" stroke-width="2.0"  stroke-linejoin="round"/>
<rect x="356.8" y="509.8" width="3.9" height="3.9" fill="#d3d3d3"/>
<rect x="391.4" y="505.9" width="3.9" height="3.9" fill="#d3d3d3"/>
<rect x="425.6" y="506.8" width="3.9" height="3.9" fill="#d3d3d3"/>
<rect x="460.1" y="521.8" width="3.9" height="3.9" fill="#d3d3d3"/>
<line x1="358.7" y1="530.4" x2="358.7" y2="539.5" stroke="#f2862e" stroke-width="1.3" />
<line x1="356.5" y1="530.4" x2="360.9" y2="530.4" stroke="#f2862e" stroke-width="1.3" />
<line x1="356.5" y1="539.5" x2="360.9" y2="539.5" stroke="#f2862e" stroke-width="1.3" />
<line x1="393.3" y1="521.4" x2="393.3" y2="530.4" stroke="#f2862e" stroke-width="1.3" />
<line x1="391.1" y1="521.4" x2="395.5" y2="521.4" stroke="#f2862e" stroke-width="1.3" />
<line x1="391.1" y1="530.4" x2="395.5" y2="530.4" stroke="#f2862e" stroke-width="1.3" />
<line x1="427.5" y1="519.9" x2="427.5" y2="534.0" stroke="#f2862e" stroke-width="1.3" />
<line x1="425.3" y1="519.9" x2="429.7" y2="519.9" stroke="#f2862e" stroke-width="1.3" />
<line x1="425.3" y1="534.0" x2="429.7" y2="534.0" stroke="#f2862e" stroke-width="1.3" />
<line x1="462.0" y1="541.0" x2="462.0" y2="550.0" stroke="#f2862e" stroke-width="1.3" />
<line x1="459.8" y1="541.0" x2="464.2" y2="541.0" stroke="#f2862e" stroke-width="1.3" />
<line x1="459.8" y1="550.0" x2="464.2" y2="550.0" stroke="#f2862e" stroke-width="1.3" />
<polyline points="358.7,534.9 393.3,525.9 427.5,527.4 462.0,545.5" fill="none" stroke="#f2862e" stroke-width="2.0"  stroke-linejoin="round"/>
<rect x="356.8" y="532.9" width="3.9" height="3.9" fill="#f2862e"/>
<rect x="391.4" y="523.9" width="3.9" height="3.9" fill="#f2862e"/>
<rect x="425.6" y="525.4" width="3.9" height="3.9" fill="#f2862e"/>
<rect x="460.1" y="543.5" width="3.9" height="3.9" fill="#f2862e"/>
<path d="M359.50,495.70L359.50,501.90M356.82,497.25L362.18,500.35M362.18,497.25L356.82,500.35" stroke="#111" stroke-width="1.35" stroke-linecap="round"/>
<circle cx="359.50" cy="498.80" r="1.35" fill="#111"/>
<path d="M393.60,491.80L393.60,498.00M390.92,493.35L396.28,496.45M396.28,493.35L390.92,496.45" stroke="#111" stroke-width="1.35" stroke-linecap="round"/>
<circle cx="393.60" cy="494.90" r="1.35" fill="#111"/>
<path d="M428.20,491.80L428.20,498.00M425.52,493.35L430.88,496.45M430.88,493.35L425.52,496.45" stroke="#111" stroke-width="1.35" stroke-linecap="round"/>
<circle cx="428.20" cy="494.90" r="1.35" fill="#111"/>
<path d="M462.90,506.80L462.90,513.00M460.22,508.35L465.58,511.45M465.58,508.35L460.22,511.45" stroke="#111" stroke-width="1.35" stroke-linecap="round"/>
<circle cx="462.90" cy="509.90" r="1.35" fill="#111"/>
<line x1="468.3" y1="524.4" x2="468.3" y2="546.1" stroke="#111" stroke-width="1.8" />
<path d="M472.90,530.60L472.30,538.60M475.30,530.60L474.70,538.60" stroke="#2a2a2a" stroke-width="0.95"/>
<path d="M470.70,533.30L476.90,533.30M470.50,536.00L476.70,536.00" stroke="#222" stroke-width="1.2"/>
<path d="M480.30,530.60L479.70,538.60M482.70,530.60L482.10,538.60" stroke="#2a2a2a" stroke-width="0.95"/>
<path d="M478.10,533.30L484.30,533.30M477.90,536.00L484.10,536.00" stroke="#222" stroke-width="1.2"/>
<path d="M487.70,530.60L487.10,538.60M490.10,530.60L489.50,538.60" stroke="#2a2a2a" stroke-width="0.95"/>
<path d="M485.50,533.30L491.70,533.30M485.30,536.00L491.50,536.00" stroke="#222" stroke-width="1.2"/>
<path d="M495.10,530.60L494.50,538.60M497.50,530.60L496.90,538.60" stroke="#2a2a2a" stroke-width="0.95"/>
<path d="M492.90,533.30L499.10,533.30M492.70,536.00L498.90,536.00" stroke="#222" stroke-width="1.2"/>
<line x1="544.2" y1="463.7" x2="544.2" y2="602.6" stroke="#111" stroke-width="2.2" />
<line x1="543.2" y1="601.1" x2="668.3" y2="601.1" stroke="#111" stroke-width="2.2" />
<line x1="536.2" y1="464.7" x2="544.2" y2="464.7" stroke="#111" stroke-width="2.2" />
<text x="532.7" y="471.7" font-size="17.5" text-anchor="end" font-weight="normal" fill="#111" >150</text>
<line x1="536.2" y1="510.7" x2="544.2" y2="510.7" stroke="#111" stroke-width="2.2" />
<text x="532.7" y="517.7" font-size="17.5" text-anchor="end" font-weight="normal" fill="#111" >100</text>
<line x1="536.2" y1="555.7" x2="544.2" y2="555.7" stroke="#111" stroke-width="2.2" />
<text x="532.7" y="562.7" font-size="17.5" text-anchor="end" font-weight="normal" fill="#111" >50</text>
<line x1="536.2" y1="601.1" x2="544.2" y2="601.1" stroke="#111" stroke-width="2.2" />
<text x="532.7" y="608.1" font-size="17.5" text-anchor="end" font-weight="normal" fill="#111" >0</text>
<line x1="556.7" y1="601.1" x2="556.7" y2="609.1" stroke="#111" stroke-width="2.2" />
<text x="556.7" y="626.6" font-size="17.5" text-anchor="middle" font-weight="normal" fill="#111" >3</text>
<line x1="591.2" y1="601.1" x2="591.2" y2="609.1" stroke="#111" stroke-width="2.2" />
<text x="591.2" y="626.6" font-size="17.5" text-anchor="middle" font-weight="normal" fill="#111" >6</text>
<line x1="625.4" y1="601.1" x2="625.4" y2="609.1" stroke="#111" stroke-width="2.2" />
<text x="625.4" y="626.6" font-size="17.5" text-anchor="middle" font-weight="normal" fill="#111" >9</text>
<line x1="660.3" y1="601.1" x2="660.3" y2="609.1" stroke="#111" stroke-width="2.2" />
<text x="660.3" y="626.6" font-size="17.5" text-anchor="middle" font-weight="normal" fill="#111" >12</text>
<line x1="556.7" y1="500.0" x2="556.7" y2="514.0" stroke="#f2862e" stroke-width="1.1" />
<line x1="554.5" y1="500.0" x2="558.9" y2="500.0" stroke="#f2862e" stroke-width="1.1" />
<line x1="554.5" y1="514.0" x2="558.9" y2="514.0" stroke="#f2862e" stroke-width="1.1" />
<line x1="591.2" y1="521.0" x2="591.2" y2="533.0" stroke="#f2862e" stroke-width="1.1" />
<line x1="589.0" y1="521.0" x2="593.4" y2="521.0" stroke="#f2862e" stroke-width="1.1" />
<line x1="589.0" y1="533.0" x2="593.4" y2="533.0" stroke="#f2862e" stroke-width="1.1" />
<line x1="625.4" y1="527.0" x2="625.4" y2="539.0" stroke="#f2862e" stroke-width="1.1" />
<line x1="623.2" y1="527.0" x2="627.6" y2="527.0" stroke="#f2862e" stroke-width="1.1" />
<line x1="623.2" y1="539.0" x2="627.6" y2="539.0" stroke="#f2862e" stroke-width="1.1" />
<line x1="660.3" y1="535.0" x2="660.3" y2="547.0" stroke="#f2862e" stroke-width="1.1" />
<line x1="658.1" y1="535.0" x2="662.5" y2="535.0" stroke="#f2862e" stroke-width="1.1" />
<line x1="658.1" y1="547.0" x2="662.5" y2="547.0" stroke="#f2862e" stroke-width="1.1" />
<polyline points="556.7,507.4 591.2,527.1 625.4,533.0 660.3,541.2" fill="none" stroke="#f2862e" stroke-width="1.9" stroke-dasharray="1.8 1.5" stroke-linejoin="round"/>
<rect x="554.8" y="505.4" width="3.9" height="3.9" fill="#f2862e"/>
<rect x="589.2" y="525.1" width="3.9" height="3.9" fill="#f2862e"/>
<rect x="623.4" y="531.0" width="3.9" height="3.9" fill="#f2862e"/>
<rect x="658.3" y="539.2" width="3.9" height="3.9" fill="#f2862e"/>
<line x1="556.7" y1="490.0" x2="556.7" y2="503.0" stroke="#f8bd86" stroke-width="1.1" />
<line x1="554.5" y1="490.0" x2="558.9" y2="490.0" stroke="#f8bd86" stroke-width="1.1" />
<line x1="554.5" y1="503.0" x2="558.9" y2="503.0" stroke="#f8bd86" stroke-width="1.1" />
<line x1="591.2" y1="522.0" x2="591.2" y2="534.0" stroke="#f8bd86" stroke-width="1.1" />
<line x1="589.0" y1="522.0" x2="593.4" y2="522.0" stroke="#f8bd86" stroke-width="1.1" />
<line x1="589.0" y1="534.0" x2="593.4" y2="534.0" stroke="#f8bd86" stroke-width="1.1" />
<line x1="625.4" y1="516.0" x2="625.4" y2="531.0" stroke="#f8bd86" stroke-width="1.1" />
<line x1="623.2" y1="516.0" x2="627.6" y2="516.0" stroke="#f8bd86" stroke-width="1.1" />
<line x1="623.2" y1="531.0" x2="627.6" y2="531.0" stroke="#f8bd86" stroke-width="1.1" />
<line x1="660.3" y1="532.0" x2="660.3" y2="544.0" stroke="#f8bd86" stroke-width="1.1" />
<line x1="658.1" y1="532.0" x2="662.5" y2="532.0" stroke="#f8bd86" stroke-width="1.1" />
<line x1="658.1" y1="544.0" x2="662.5" y2="544.0" stroke="#f8bd86" stroke-width="1.1" />
<polyline points="556.7,496.5 591.2,528.1 625.4,523.8 660.3,538.0" fill="none" stroke="#f8bd86" stroke-width="1.6" stroke-dasharray="1.8 1.5" stroke-linejoin="round"/>
<rect x="554.8" y="494.6" width="3.9" height="3.9" fill="#f8bd86"/>
<rect x="589.2" y="526.1" width="3.9" height="3.9" fill="#f8bd86"/>
<rect x="623.4" y="521.8" width="3.9" height="3.9" fill="#f8bd86"/>
<rect x="658.3" y="536.0" width="3.9" height="3.9" fill="#f8bd86"/>
<line x1="556.7" y1="486.0" x2="556.7" y2="497.0" stroke="#d3d3d3" stroke-width="1.1" />
<line x1="554.5" y1="486.0" x2="558.9" y2="486.0" stroke="#d3d3d3" stroke-width="1.1" />
<line x1="554.5" y1="497.0" x2="558.9" y2="497.0" stroke="#d3d3d3" stroke-width="1.1" />
<line x1="591.2" y1="496.0" x2="591.2" y2="507.0" stroke="#d3d3d3" stroke-width="1.1" />
<line x1="589.0" y1="496.0" x2="593.4" y2="496.0" stroke="#d3d3d3" stroke-width="1.1" />
<line x1="589.0" y1="507.0" x2="593.4" y2="507.0" stroke="#d3d3d3" stroke-width="1.1" />
<line x1="625.4" y1="493.0" x2="625.4" y2="505.0" stroke="#d3d3d3" stroke-width="1.1" />
<line x1="623.2" y1="493.0" x2="627.6" y2="493.0" stroke="#d3d3d3" stroke-width="1.1" />
<line x1="623.2" y1="505.0" x2="627.6" y2="505.0" stroke="#d3d3d3" stroke-width="1.1" />
<line x1="660.3" y1="511.0" x2="660.3" y2="524.0" stroke="#d3d3d3" stroke-width="1.1" />
<line x1="658.1" y1="511.0" x2="662.5" y2="511.0" stroke="#d3d3d3" stroke-width="1.1" />
<line x1="658.1" y1="524.0" x2="662.5" y2="524.0" stroke="#d3d3d3" stroke-width="1.1" />
<polyline points="556.7,491.9 591.2,501.8 625.4,499.2 660.3,517.3" fill="none" stroke="#d3d3d3" stroke-width="1.9" stroke-dasharray="1.8 1.5" stroke-linejoin="round"/>
<rect x="554.8" y="489.9" width="3.9" height="3.9" fill="#d3d3d3"/>
<rect x="589.2" y="499.9" width="3.9" height="3.9" fill="#d3d3d3"/>
<rect x="623.4" y="497.2" width="3.9" height="3.9" fill="#d3d3d3"/>
<rect x="658.3" y="515.3" width="3.9" height="3.9" fill="#d3d3d3"/>
<path d="M579.85,488.90L579.85,495.10M577.17,490.45L582.53,493.55M582.53,490.45L577.17,493.55" stroke="#111" stroke-width="1.35" stroke-linecap="round"/>
<circle cx="579.85" cy="492.00" r="1.35" fill="#111"/>
<path d="M588.35,488.90L588.35,495.10M585.67,490.45L591.03,493.55M591.03,490.45L585.67,493.55" stroke="#111" stroke-width="1.35" stroke-linecap="round"/>
<circle cx="588.35" cy="492.00" r="1.35" fill="#111"/>
<path d="M613.45,485.90L613.45,492.10M610.77,487.45L616.13,490.55M616.13,487.45L610.77,490.55" stroke="#111" stroke-width="1.35" stroke-linecap="round"/>
<circle cx="613.45" cy="489.00" r="1.35" fill="#111"/>
<path d="M621.75,485.90L621.75,492.10M619.07,487.45L624.43,490.55M624.43,487.45L619.07,490.55" stroke="#111" stroke-width="1.35" stroke-linecap="round"/>
<circle cx="621.75" cy="489.00" r="1.35" fill="#111"/>
<path d="M630.05,485.90L630.05,492.10M627.37,487.45L632.73,490.55M632.73,487.45L627.37,490.55" stroke="#111" stroke-width="1.35" stroke-linecap="round"/>
<circle cx="630.05" cy="489.00" r="1.35" fill="#111"/>
<path d="M638.35,485.90L638.35,492.10M635.67,487.45L641.03,490.55M641.03,487.45L635.67,490.55" stroke="#111" stroke-width="1.35" stroke-linecap="round"/>
<circle cx="638.35" cy="489.00" r="1.35" fill="#111"/>
<path d="M650.15,502.00L650.15,508.20M647.47,503.55L652.83,506.65M652.83,503.55L647.47,506.65" stroke="#111" stroke-width="1.35" stroke-linecap="round"/>
<circle cx="650.15" cy="505.10" r="1.35" fill="#111"/>
<path d="M658.65,502.00L658.65,508.20M655.97,503.55L661.33,506.65M661.33,503.55L655.97,506.65" stroke="#111" stroke-width="1.35" stroke-linecap="round"/>
<circle cx="658.65" cy="505.10" r="1.35" fill="#111"/>
<line x1="666.9" y1="517.3" x2="666.9" y2="538.0" stroke="#111" stroke-width="1.8" />
<path d="M670.70,522.10L670.10,530.10M673.10,522.10L672.50,530.10" stroke="#2a2a2a" stroke-width="0.95"/>
<path d="M668.50,524.80L674.70,524.80M668.30,527.50L674.50,527.50" stroke="#222" stroke-width="1.2"/>
<path d="M678.10,522.10L677.50,530.10M680.50,522.10L679.90,530.10" stroke="#2a2a2a" stroke-width="0.95"/>
<path d="M675.90,524.80L682.10,524.80M675.70,527.50L681.90,527.50" stroke="#222" stroke-width="1.2"/>
<path d="M685.50,522.10L684.90,530.10M687.90,522.10L687.30,530.10" stroke="#2a2a2a" stroke-width="0.95"/>
<path d="M683.30,524.80L689.50,524.80M683.10,527.50L689.30,527.50" stroke="#222" stroke-width="1.2"/>
<polyline points="682.3,517.3 692.2,517.3 692.2,541.2 682.3,541.2" fill="none" stroke="#111" stroke-width="1.8"/>
<path d="M697.80,525.40L697.20,533.40M700.20,525.40L699.60,533.40" stroke="#2a2a2a" stroke-width="0.95"/>
<path d="M695.60,528.10L701.80,528.10M695.40,530.80L701.60,530.80" stroke="#222" stroke-width="1.2"/>
<path d="M705.20,525.40L704.60,533.40M707.60,525.40L707.00,533.40" stroke="#2a2a2a" stroke-width="0.95"/>
<path d="M703.00,528.10L709.20,528.10M702.80,530.80L709.00,530.80" stroke="#222" stroke-width="1.2"/>
<path d="M712.60,525.40L712.00,533.40M715.00,525.40L714.40,533.40" stroke="#2a2a2a" stroke-width="0.95"/>
<path d="M710.40,528.10L716.60,528.10M710.20,530.80L716.40,530.80" stroke="#222" stroke-width="1.2"/>
<path d="M720.00,525.40L719.40,533.40M722.40,525.40L721.80,533.40" stroke="#2a2a2a" stroke-width="0.95"/>
<path d="M717.80,528.10L724.00,528.10M717.60,530.80L723.80,530.80" stroke="#222" stroke-width="1.2"/>
<text x="0" y="0" font-size="20.8" font-weight="bold" fill="#111" transform="translate(290.8,658.6) scale(0.92,1)">I</text>
<text x="386.6" y="668.6" font-size="18" text-anchor="start" font-weight="normal" fill="#111" >Male</text>
<text x="579.0" y="666.3" font-size="18" text-anchor="start" font-weight="normal" fill="#111" >Female</text>
<line x1="347.8" y1="664.6" x2="347.8" y2="800.6" stroke="#111" stroke-width="2.2" />
<line x1="346.8" y1="799.1" x2="469.8" y2="799.1" stroke="#111" stroke-width="2.2" />
<line x1="339.8" y1="665.6" x2="347.8" y2="665.6" stroke="#111" stroke-width="2.2" />
<text x="336.3" y="672.6" font-size="17.5" text-anchor="end" font-weight="normal" fill="#111" >40</text>
<line x1="339.8" y1="699.4" x2="347.8" y2="699.4" stroke="#111" stroke-width="2.2" />
<text x="336.3" y="706.4" font-size="17.5" text-anchor="end" font-weight="normal" fill="#111" >30</text>
<line x1="339.8" y1="732.8" x2="347.8" y2="732.8" stroke="#111" stroke-width="2.2" />
<text x="336.3" y="739.8" font-size="17.5" text-anchor="end" font-weight="normal" fill="#111" >20</text>
<line x1="339.8" y1="766.0" x2="347.8" y2="766.0" stroke="#111" stroke-width="2.2" />
<text x="336.3" y="773.0" font-size="17.5" text-anchor="end" font-weight="normal" fill="#111" >10</text>
<line x1="339.8" y1="799.1" x2="347.8" y2="799.1" stroke="#111" stroke-width="2.2" />
<text x="336.3" y="806.1" font-size="17.5" text-anchor="end" font-weight="normal" fill="#111" >0</text>
<line x1="358.7" y1="799.1" x2="358.7" y2="807.1" stroke="#111" stroke-width="2.2" />
<text x="358.7" y="826.2" font-size="17.5" text-anchor="middle" font-weight="normal" fill="#111" >3</text>
<line x1="392.8" y1="799.1" x2="392.8" y2="807.1" stroke="#111" stroke-width="2.2" />
<text x="392.8" y="826.2" font-size="17.5" text-anchor="middle" font-weight="normal" fill="#111" >6</text>
<line x1="426.1" y1="799.1" x2="426.1" y2="807.1" stroke="#111" stroke-width="2.2" />
<text x="426.1" y="826.2" font-size="17.5" text-anchor="middle" font-weight="normal" fill="#111" >9</text>
<line x1="460.5" y1="799.1" x2="460.5" y2="807.1" stroke="#111" stroke-width="2.2" />
<text x="460.5" y="826.2" font-size="17.5" text-anchor="middle" font-weight="normal" fill="#111" >12</text>
<text x="352.8" y="826.2" font-size="17.5" text-anchor="end" font-weight="normal" fill="#111" >Month</text>
<text x="0" y="0" font-size="14.4" text-anchor="middle" fill="#111" transform="translate(297.0,728.0) rotate(-90)">Climb down time (s)</text>
<line x1="358.7" y1="742.0" x2="358.7" y2="750.9" stroke="#d3d3d3" stroke-width="1.3" />
<line x1="356.5" y1="742.0" x2="360.9" y2="742.0" stroke="#d3d3d3" stroke-width="1.3" />
<line x1="356.5" y1="750.9" x2="360.9" y2="750.9" stroke="#d3d3d3" stroke-width="1.3" />
<line x1="392.8" y1="763.0" x2="392.8" y2="766.6" stroke="#d3d3d3" stroke-width="1.3" />
<line x1="390.6" y1="763.0" x2="395.0" y2="763.0" stroke="#d3d3d3" stroke-width="1.3" />
<line x1="390.6" y1="766.6" x2="395.0" y2="766.6" stroke="#d3d3d3" stroke-width="1.3" />
<line x1="426.1" y1="748.5" x2="426.1" y2="757.5" stroke="#d3d3d3" stroke-width="1.3" />
<line x1="423.9" y1="748.5" x2="428.3" y2="748.5" stroke="#d3d3d3" stroke-width="1.3" />
<line x1="423.9" y1="757.5" x2="428.3" y2="757.5" stroke="#d3d3d3" stroke-width="1.3" />
<line x1="460.5" y1="744.0" x2="460.5" y2="754.5" stroke="#d3d3d3" stroke-width="1.3" />
<line x1="458.3" y1="744.0" x2="462.7" y2="744.0" stroke="#d3d3d3" stroke-width="1.3" />
<line x1="458.3" y1="754.5" x2="462.7" y2="754.5" stroke="#d3d3d3" stroke-width="1.3" />
<polyline points="358.7,747.0 392.8,765.1 426.1,753.0 460.5,750.0" fill="none" stroke="#d3d3d3" stroke-width="2.0"  stroke-linejoin="round"/>
<rect x="356.8" y="745.0" width="3.9" height="3.9" fill="#d3d3d3"/>
<rect x="390.9" y="763.1" width="3.9" height="3.9" fill="#d3d3d3"/>
<rect x="424.2" y="751.0" width="3.9" height="3.9" fill="#d3d3d3"/>
<rect x="458.6" y="748.0" width="3.9" height="3.9" fill="#d3d3d3"/>
<line x1="358.7" y1="738.0" x2="358.7" y2="749.1" stroke="#f2862e" stroke-width="1.3" />
<line x1="356.5" y1="738.0" x2="360.9" y2="738.0" stroke="#f2862e" stroke-width="1.3" />
<line x1="356.5" y1="749.1" x2="360.9" y2="749.1" stroke="#f2862e" stroke-width="1.3" />
<line x1="392.8" y1="747.0" x2="392.8" y2="757.5" stroke="#f2862e" stroke-width="1.3" />
<line x1="390.6" y1="747.0" x2="395.0" y2="747.0" stroke="#f2862e" stroke-width="1.3" />
<line x1="390.6" y1="757.5" x2="395.0" y2="757.5" stroke="#f2862e" stroke-width="1.3" />
<line x1="426.1" y1="738.9" x2="426.1" y2="749.1" stroke="#f2862e" stroke-width="1.3" />
<line x1="423.9" y1="738.9" x2="428.3" y2="738.9" stroke="#f2862e" stroke-width="1.3" />
<line x1="423.9" y1="749.1" x2="428.3" y2="749.1" stroke="#f2862e" stroke-width="1.3" />
<line x1="460.5" y1="699.7" x2="460.5" y2="741.0" stroke="#f2862e" stroke-width="1.3" />
<line x1="458.3" y1="699.7" x2="462.7" y2="699.7" stroke="#f2862e" stroke-width="1.3" />
<line x1="458.3" y1="741.0" x2="462.7" y2="741.0" stroke="#f2862e" stroke-width="1.3" />
<polyline points="358.7,744.0 392.8,752.4 426.1,744.9 460.5,719.9" fill="none" stroke="#f2862e" stroke-width="2.0"  stroke-linejoin="round"/>
<rect x="356.8" y="742.0" width="3.9" height="3.9" fill="#f2862e"/>
<rect x="390.9" y="750.4" width="3.9" height="3.9" fill="#f2862e"/>
<rect x="424.2" y="742.9" width="3.9" height="3.9" fill="#f2862e"/>
<rect x="458.6" y="717.9" width="3.9" height="3.9" fill="#f2862e"/>
<path d="M460.50,689.60L460.50,695.80M457.82,691.15L463.18,694.25M463.18,691.15L457.82,694.25" stroke="#111" stroke-width="1.35" stroke-linecap="round"/>
<circle cx="460.50" cy="692.70" r="1.35" fill="#111"/>
<line x1="465.3" y1="719.0" x2="465.3" y2="750.0" stroke="#111" stroke-width="1.8" />
<path d="M469.70,730.00L469.10,738.00M472.10,730.00L471.50,738.00" stroke="#2a2a2a" stroke-width="0.95"/>
<path d="M467.50,732.70L473.70,732.70M467.30,735.40L473.50,735.40" stroke="#222" stroke-width="1.2"/>
<line x1="543.6" y1="664.6" x2="543.6" y2="800.9" stroke="#111" stroke-width="2.2" />
<line x1="542.6" y1="799.4" x2="665.0" y2="799.4" stroke="#111" stroke-width="2.2" />
<line x1="535.6" y1="665.6" x2="543.6" y2="665.6" stroke="#111" stroke-width="2.2" />
<text x="532.1" y="672.6" font-size="17.5" text-anchor="end" font-weight="normal" fill="#111" >40</text>
<line x1="535.6" y1="699.2" x2="543.6" y2="699.2" stroke="#111" stroke-width="2.2" />
<text x="532.1" y="706.2" font-size="17.5" text-anchor="end" font-weight="normal" fill="#111" >30</text>
<line x1="535.6" y1="732.7" x2="543.6" y2="732.7" stroke="#111" stroke-width="2.2" />
<text x="532.1" y="739.7" font-size="17.5" text-anchor="end" font-weight="normal" fill="#111" >20</text>
<line x1="535.6" y1="765.9" x2="543.6" y2="765.9" stroke="#111" stroke-width="2.2" />
<text x="532.1" y="772.9" font-size="17.5" text-anchor="end" font-weight="normal" fill="#111" >10</text>
<line x1="535.6" y1="799.4" x2="543.6" y2="799.4" stroke="#111" stroke-width="2.2" />
<text x="532.1" y="806.4" font-size="17.5" text-anchor="end" font-weight="normal" fill="#111" >0</text>
<line x1="555.7" y1="799.4" x2="555.7" y2="807.4" stroke="#111" stroke-width="2.2" />
<text x="555.7" y="826.2" font-size="17.5" text-anchor="middle" font-weight="normal" fill="#111" >3</text>
<line x1="589.6" y1="799.4" x2="589.6" y2="807.4" stroke="#111" stroke-width="2.2" />
<text x="589.6" y="826.2" font-size="17.5" text-anchor="middle" font-weight="normal" fill="#111" >6</text>
<line x1="623.1" y1="799.4" x2="623.1" y2="807.4" stroke="#111" stroke-width="2.2" />
<text x="623.1" y="826.2" font-size="17.5" text-anchor="middle" font-weight="normal" fill="#111" >9</text>
<line x1="657.7" y1="799.4" x2="657.7" y2="807.4" stroke="#111" stroke-width="2.2" />
<text x="657.7" y="826.2" font-size="17.5" text-anchor="middle" font-weight="normal" fill="#111" >12</text>
<line x1="555.7" y1="733.0" x2="555.7" y2="743.0" stroke="#f2862e" stroke-width="1.1" />
<line x1="553.5" y1="733.0" x2="557.9" y2="733.0" stroke="#f2862e" stroke-width="1.1" />
<line x1="553.5" y1="743.0" x2="557.9" y2="743.0" stroke="#f2862e" stroke-width="1.1" />
<line x1="589.6" y1="750.0" x2="589.6" y2="758.0" stroke="#f2862e" stroke-width="1.1" />
<line x1="587.4" y1="750.0" x2="591.8" y2="750.0" stroke="#f2862e" stroke-width="1.1" />
<line x1="587.4" y1="758.0" x2="591.8" y2="758.0" stroke="#f2862e" stroke-width="1.1" />
<line x1="623.1" y1="746.0" x2="623.1" y2="758.0" stroke="#f2862e" stroke-width="1.1" />
<line x1="620.9" y1="746.0" x2="625.3" y2="746.0" stroke="#f2862e" stroke-width="1.1" />
<line x1="620.9" y1="758.0" x2="625.3" y2="758.0" stroke="#f2862e" stroke-width="1.1" />
<line x1="657.7" y1="675.5" x2="657.7" y2="708.0" stroke="#f2862e" stroke-width="1.1" />
<line x1="655.5" y1="675.5" x2="659.9" y2="675.5" stroke="#f2862e" stroke-width="1.1" />
<line x1="655.5" y1="708.0" x2="659.9" y2="708.0" stroke="#f2862e" stroke-width="1.1" />
<polyline points="555.7,738.0 589.6,754.4 623.1,752.8 657.7,691.9" fill="none" stroke="#f2862e" stroke-width="1.9" stroke-dasharray="1.8 1.5" stroke-linejoin="round"/>
<rect x="553.8" y="736.0" width="3.9" height="3.9" fill="#f2862e"/>
<rect x="587.6" y="752.4" width="3.9" height="3.9" fill="#f2862e"/>
<rect x="621.1" y="750.8" width="3.9" height="3.9" fill="#f2862e"/>
<rect x="655.8" y="689.9" width="3.9" height="3.9" fill="#f2862e"/>
<line x1="555.7" y1="739.0" x2="555.7" y2="750.0" stroke="#f8bd86" stroke-width="1.1" />
<line x1="553.5" y1="739.0" x2="557.9" y2="739.0" stroke="#f8bd86" stroke-width="1.1" />
<line x1="553.5" y1="750.0" x2="557.9" y2="750.0" stroke="#f8bd86" stroke-width="1.1" />
<line x1="589.6" y1="759.0" x2="589.6" y2="767.0" stroke="#f8bd86" stroke-width="1.1" />
<line x1="587.4" y1="759.0" x2="591.8" y2="759.0" stroke="#f8bd86" stroke-width="1.1" />
<line x1="587.4" y1="767.0" x2="591.8" y2="767.0" stroke="#f8bd86" stroke-width="1.1" />
<line x1="623.1" y1="748.0" x2="623.1" y2="759.0" stroke="#f8bd86" stroke-width="1.1" />
<line x1="620.9" y1="748.0" x2="625.3" y2="748.0" stroke="#f8bd86" stroke-width="1.1" />
<line x1="620.9" y1="759.0" x2="625.3" y2="759.0" stroke="#f8bd86" stroke-width="1.1" />
<line x1="657.7" y1="685.0" x2="657.7" y2="732.0" stroke="#f8bd86" stroke-width="1.1" />
<line x1="655.5" y1="685.0" x2="659.9" y2="685.0" stroke="#f8bd86" stroke-width="1.1" />
<line x1="655.5" y1="732.0" x2="659.9" y2="732.0" stroke="#f8bd86" stroke-width="1.1" />
<polyline points="555.7,744.5 589.6,763.3 623.1,753.4 657.7,708.4" fill="none" stroke="#f8bd86" stroke-width="1.6" stroke-dasharray="1.8 1.5" stroke-linejoin="round"/>
<rect x="553.8" y="742.5" width="3.9" height="3.9" fill="#f8bd86"/>
<rect x="587.6" y="761.3" width="3.9" height="3.9" fill="#f8bd86"/>
<rect x="621.1" y="751.4" width="3.9" height="3.9" fill="#f8bd86"/>
<rect x="655.8" y="706.4" width="3.9" height="3.9" fill="#f8bd86"/>
<line x1="555.7" y1="726.0" x2="555.7" y2="737.0" stroke="#d3d3d3" stroke-width="1.1" />
<line x1="553.5" y1="726.0" x2="557.9" y2="726.0" stroke="#d3d3d3" stroke-width="1.1" />
<line x1="553.5" y1="737.0" x2="557.9" y2="737.0" stroke="#d3d3d3" stroke-width="1.1" />
<line x1="589.6" y1="754.0" x2="589.6" y2="763.0" stroke="#d3d3d3" stroke-width="1.1" />
<line x1="587.4" y1="754.0" x2="591.8" y2="754.0" stroke="#d3d3d3" stroke-width="1.1" />
<line x1="587.4" y1="763.0" x2="591.8" y2="763.0" stroke="#d3d3d3" stroke-width="1.1" />
<line x1="623.1" y1="760.0" x2="623.1" y2="768.0" stroke="#d3d3d3" stroke-width="1.1" />
<line x1="620.9" y1="760.0" x2="625.3" y2="760.0" stroke="#d3d3d3" stroke-width="1.1" />
<line x1="620.9" y1="768.0" x2="625.3" y2="768.0" stroke="#d3d3d3" stroke-width="1.1" />
<line x1="657.7" y1="748.0" x2="657.7" y2="757.0" stroke="#d3d3d3" stroke-width="1.1" />
<line x1="655.5" y1="748.0" x2="659.9" y2="748.0" stroke="#d3d3d3" stroke-width="1.1" />
<line x1="655.5" y1="757.0" x2="659.9" y2="757.0" stroke="#d3d3d3" stroke-width="1.1" />
<polyline points="555.7,731.4 589.6,758.3 623.1,764.3 657.7,752.4" fill="none" stroke="#d3d3d3" stroke-width="1.9" stroke-dasharray="1.8 1.5" stroke-linejoin="round"/>
<rect x="553.8" y="729.4" width="3.9" height="3.9" fill="#d3d3d3"/>
<rect x="587.6" y="756.3" width="3.9" height="3.9" fill="#d3d3d3"/>
<rect x="621.1" y="762.3" width="3.9" height="3.9" fill="#d3d3d3"/>
<rect x="655.8" y="750.4" width="3.9" height="3.9" fill="#d3d3d3"/>
<path d="M644.00,666.10L644.00,672.30M641.32,667.65L646.68,670.75M646.68,667.65L641.32,670.75" stroke="#111" stroke-width="1.35" stroke-linecap="round"/>
<circle cx="644.00" cy="669.20" r="1.35" fill="#111"/>
<path d="M652.20,666.10L652.20,672.30M649.52,667.65L654.88,670.75M654.88,667.65L649.52,670.75" stroke="#111" stroke-width="1.35" stroke-linecap="round"/>
<circle cx="652.20" cy="669.20" r="1.35" fill="#111"/>
<path d="M660.40,666.10L660.40,672.30M657.72,667.65L663.08,670.75M663.08,667.65L657.72,670.75" stroke="#111" stroke-width="1.35" stroke-linecap="round"/>
<circle cx="660.40" cy="669.20" r="1.35" fill="#111"/>
<path d="M668.60,666.10L668.60,672.30M665.92,667.65L671.28,670.75M671.28,667.65L665.92,670.75" stroke="#111" stroke-width="1.35" stroke-linecap="round"/>
<circle cx="668.60" cy="669.20" r="1.35" fill="#111"/>
<line x1="661.9" y1="691.9" x2="661.9" y2="753.4" stroke="#111" stroke-width="1.8" />
<path d="M665.90,718.20L665.30,726.20M668.30,718.20L667.70,726.20" stroke="#2a2a2a" stroke-width="0.95"/>
<path d="M663.70,720.90L669.90,720.90M663.50,723.60L669.70,723.60" stroke="#222" stroke-width="1.2"/>
<text x="0" y="0" font-size="20.8" font-weight="bold" fill="#111" transform="translate(5.6,252.6) scale(0.88,1)">D</text>
<defs><pattern id="hg" patternUnits="userSpaceOnUse" width="7.3" height="7.3" patternTransform="rotate(52)"><rect width="7.3" height="7.3" fill="#fff"/><rect width="3.6" height="7.3" fill="#d3d3d3"/></pattern><pattern id="hl" patternUnits="userSpaceOnUse" width="7.3" height="7.3" patternTransform="rotate(52)"><rect width="7.3" height="7.3" fill="#fff"/><rect width="3.7" height="7.3" fill="#f8bd86"/></pattern><pattern id="ho" patternUnits="userSpaceOnUse" width="7.3" height="7.3" patternTransform="rotate(52)"><rect width="7.3" height="7.3" fill="#fff"/><rect width="3.9" height="7.3" fill="#f2862e"/></pattern></defs>
<rect x="117.8" y="287.1" width="15.2" height="90.4" fill="#d3d3d3" stroke="#111" stroke-width="2.3"/>
<rect x="144.6" y="303.2" width="15.2" height="74.3" fill="#f2862e" stroke="#111" stroke-width="2.3"/>
<rect x="170.8" y="301.3" width="15.2" height="76.2" fill="url(#hg)" stroke="#111" stroke-width="2.3"/>
<rect x="197.3" y="286.0" width="15.2" height="91.5" fill="url(#hl)" stroke="#111" stroke-width="2.3"/>
<rect x="223.6" y="332.4" width="15.2" height="45.1" fill="url(#ho)" stroke="#111" stroke-width="2.3"/>
<circle cx="118.6" cy="277.1" r="1.95" fill="#111"/>
<circle cx="122.0" cy="277.1" r="1.95" fill="#111"/>
<circle cx="125.4" cy="277.1" r="1.95" fill="#111"/>
<circle cx="128.8" cy="277.1" r="1.95" fill="#111"/>
<circle cx="132.2" cy="277.1" r="1.95" fill="#111"/>
<circle cx="118.6" cy="289.6" r="1.95" fill="#111"/>
<circle cx="122.0" cy="289.6" r="1.95" fill="#111"/>
<circle cx="125.4" cy="289.6" r="1.95" fill="#111"/>
<circle cx="128.8" cy="289.6" r="1.95" fill="#111"/>
<circle cx="132.2" cy="289.6" r="1.95" fill="#111"/>
<circle cx="123.6" cy="302.2" r="1.95" fill="#111"/>
<circle cx="127.2" cy="302.2" r="1.95" fill="#111"/>
<line x1="125.4" y1="283.3" x2="125.4" y2="291.0" stroke="#111" stroke-width="1.8" />
<line x1="120.8" y1="283.3" x2="130.0" y2="283.3" stroke="#111" stroke-width="1.8" />
<line x1="120.8" y1="291.0" x2="130.0" y2="291.0" stroke="#111" stroke-width="1.8" />
<circle cx="148.8" cy="277.1" r="1.95" fill="#111"/>
<circle cx="155.6" cy="277.1" r="1.95" fill="#111"/>
<circle cx="145.2" cy="289.6" r="1.95" fill="#111"/>
<circle cx="152.2" cy="289.6" r="1.95" fill="#111"/>
<circle cx="159.2" cy="289.6" r="1.95" fill="#111"/>
<circle cx="145.2" cy="302.2" r="1.95" fill="#111"/>
<circle cx="152.2" cy="302.2" r="1.95" fill="#111"/>
<circle cx="159.2" cy="302.2" r="1.95" fill="#111"/>
<circle cx="148.8" cy="327.3" r="1.95" fill="#111"/>
<circle cx="155.6" cy="327.3" r="1.95" fill="#111"/>
<circle cx="152.2" cy="339.9" r="1.95" fill="#111"/>
<line x1="152.2" y1="295.8" x2="152.2" y2="309.8" stroke="#111" stroke-width="1.8" />
<line x1="147.6" y1="295.8" x2="156.8" y2="295.8" stroke="#111" stroke-width="1.8" />
<line x1="147.6" y1="309.8" x2="156.8" y2="309.8" stroke="#111" stroke-width="1.8" />
<circle cx="172.4" cy="277.1" r="1.95" fill="#111"/>
<circle cx="176.4" cy="277.1" r="1.95" fill="#111"/>
<circle cx="180.4" cy="277.1" r="1.95" fill="#111"/>
<circle cx="184.4" cy="277.1" r="1.95" fill="#111"/>
<circle cx="171.5" cy="289.6" r="1.95" fill="#111"/>
<circle cx="178.4" cy="289.6" r="1.95" fill="#111"/>
<circle cx="185.3" cy="289.6" r="1.95" fill="#111"/>
<circle cx="171.5" cy="302.2" r="1.95" fill="#111"/>
<circle cx="178.4" cy="302.2" r="1.95" fill="#111"/>
<circle cx="185.3" cy="302.2" r="1.95" fill="#111"/>
<circle cx="178.4" cy="314.8" r="1.95" fill="#111"/>
<circle cx="176.2" cy="327.3" r="1.95" fill="#111"/>
<circle cx="180.6" cy="327.3" r="1.95" fill="#111"/>
<circle cx="178.4" cy="352.4" r="1.95" fill="#111"/>
<line x1="178.4" y1="294.2" x2="178.4" y2="307.4" stroke="#111" stroke-width="1.8" />
<line x1="173.8" y1="294.2" x2="183.0" y2="294.2" stroke="#111" stroke-width="1.8" />
<line x1="173.8" y1="307.4" x2="183.0" y2="307.4" stroke="#111" stroke-width="1.8" />
<circle cx="198.1" cy="277.1" r="1.95" fill="#111"/>
<circle cx="201.5" cy="277.1" r="1.95" fill="#111"/>
<circle cx="204.9" cy="277.1" r="1.95" fill="#111"/>
<circle cx="208.3" cy="277.1" r="1.95" fill="#111"/>
<circle cx="211.7" cy="277.1" r="1.95" fill="#111"/>
<circle cx="203.1" cy="289.6" r="1.95" fill="#111"/>
<circle cx="206.7" cy="289.6" r="1.95" fill="#111"/>
<circle cx="204.9" cy="314.8" r="1.95" fill="#111"/>
<line x1="204.9" y1="279.5" x2="204.9" y2="289.3" stroke="#111" stroke-width="1.8" />
<line x1="200.3" y1="279.5" x2="209.5" y2="279.5" stroke="#111" stroke-width="1.8" />
<line x1="200.3" y1="289.3" x2="209.5" y2="289.3" stroke="#111" stroke-width="1.8" />
<circle cx="231.2" cy="289.6" r="1.95" fill="#111"/>
<circle cx="229.2" cy="302.2" r="1.95" fill="#111"/>
<circle cx="233.2" cy="302.2" r="1.95" fill="#111"/>
<circle cx="229.1" cy="314.8" r="1.95" fill="#111"/>
<circle cx="233.3" cy="314.8" r="1.95" fill="#111"/>
<circle cx="231.2" cy="327.3" r="1.95" fill="#111"/>
<circle cx="225.6" cy="339.9" r="1.95" fill="#111"/>
<circle cx="229.3" cy="339.9" r="1.95" fill="#111"/>
<circle cx="233.0" cy="339.9" r="1.95" fill="#111"/>
<circle cx="236.8" cy="339.9" r="1.95" fill="#111"/>
<circle cx="226.6" cy="364.9" r="1.95" fill="#111"/>
<circle cx="231.2" cy="364.9" r="1.95" fill="#111"/>
<circle cx="235.8" cy="364.9" r="1.95" fill="#111"/>
<line x1="231.2" y1="324.7" x2="231.2" y2="338.6" stroke="#111" stroke-width="1.8" />
<line x1="226.6" y1="324.7" x2="235.8" y2="324.7" stroke="#111" stroke-width="1.8" />
<line x1="226.6" y1="338.6" x2="235.8" y2="338.6" stroke="#111" stroke-width="1.8" />
<line x1="107.7" y1="225.9" x2="107.7" y2="378.5" stroke="#111" stroke-width="2.2" />
<line x1="106.7" y1="377.5" x2="249.0" y2="377.5" stroke="#111" stroke-width="2.2" />
<line x1="98.6" y1="226.9" x2="107.7" y2="226.9" stroke="#111" stroke-width="2.2" />
<text x="95.6" y="234.7" font-size="17.5" text-anchor="end" font-weight="normal" fill="#111" >1.5</text>
<line x1="98.6" y1="277.5" x2="107.7" y2="277.5" stroke="#111" stroke-width="2.2" />
<text x="95.6" y="285.3" font-size="17.5" text-anchor="end" font-weight="normal" fill="#111" >1.0</text>
<line x1="98.6" y1="327.7" x2="107.7" y2="327.7" stroke="#111" stroke-width="2.2" />
<text x="95.6" y="335.5" font-size="17.5" text-anchor="end" font-weight="normal" fill="#111" >0.5</text>
<line x1="98.6" y1="377.5" x2="107.7" y2="377.5" stroke="#111" stroke-width="2.2" />
<text x="95.6" y="385.3" font-size="17.5" text-anchor="end" font-weight="normal" fill="#111" >0.0</text>
<line x1="125.4" y1="377.5" x2="125.4" y2="385.5" stroke="#111" stroke-width="2.2" />
<text x="0" y="0" font-size="17.5" text-anchor="end" fill="#111" transform="translate(132.4,398.8) rotate(-45)">WT M</text>
<line x1="152.2" y1="377.5" x2="152.2" y2="385.5" stroke="#111" stroke-width="2.2" />
<text x="0" y="0" font-size="17.5" text-anchor="end" fill="#111" transform="translate(159.2,398.8) rotate(-45)">Hemi M</text>
<line x1="178.4" y1="377.5" x2="178.4" y2="385.5" stroke="#111" stroke-width="2.2" />
<text x="0" y="0" font-size="17.5" text-anchor="end" fill="#111" transform="translate(185.4,398.8) rotate(-45)">WT F</text>
<line x1="204.9" y1="377.5" x2="204.9" y2="385.5" stroke="#111" stroke-width="2.2" />
<text x="0" y="0" font-size="17.5" text-anchor="end" fill="#111" transform="translate(211.9,398.8) rotate(-45)">Het F</text>
<line x1="231.2" y1="377.5" x2="231.2" y2="385.5" stroke="#111" stroke-width="2.2" />
<text x="0" y="0" font-size="17.5" text-anchor="end" fill="#111" transform="translate(238.2,398.8) rotate(-45)">Homo F</text>
<text x="0" y="0" font-size="17" text-anchor="middle" fill="#111" transform="translate(43.4,302.3) rotate(-90)">Success Ratio</text>
<text x="0" y="0" font-size="16.8" text-anchor="middle" fill="#111" transform="translate(65.0,304.3) rotate(-90)">(Visual probe test)</text>
<polyline points="127.4,266.3 127.4,255.3 152.1,255.3 152.1,266.3" fill="none" stroke="#111" stroke-width="1.9"/>
<path d="M140.10,247.10L140.10,253.30M137.42,248.65L142.78,251.75M142.78,248.65L137.42,251.75" stroke="#111" stroke-width="1.35" stroke-linecap="round"/>
<circle cx="140.10" cy="250.20" r="1.35" fill="#111"/>
<polyline points="178.7,268.8 178.7,258.1 234.3,258.1 234.3,268.8" fill="none" stroke="#111" stroke-width="1.9"/>
<path d="M203.00,248.70L203.00,254.90M200.32,250.25L205.68,253.35M205.68,250.25L200.32,253.35" stroke="#111" stroke-width="1.35" stroke-linecap="round"/>
<circle cx="203.00" cy="251.80" r="1.35" fill="#111"/>
<path d="M212.00,248.70L212.00,254.90M209.32,250.25L214.68,253.35M214.68,250.25L209.32,253.35" stroke="#111" stroke-width="1.35" stroke-linecap="round"/>
<circle cx="212.00" cy="251.80" r="1.35" fill="#111"/>
<circle cx="176.1" cy="154.2" r="73.8" fill="#a5d3f2" stroke="#8a9aa8" stroke-width="1"/>
<circle cx="162.7" cy="204.4" r="11.0" fill="#e0effa" stroke="#938e8a" stroke-width="1.3"/>
<path d="M169.4,109.9 C168.1,110.2 164.9,111.9 161.6,112.0 C158.2,112.1 152.6,111.5 149.3,110.3 C146.1,109.1 144.0,105.8 142.1,104.8 C140.2,103.8 138.7,103.1 137.8,104.0 C136.9,104.9 136.9,107.0 136.8,110.0 C136.7,113.0 136.9,118.7 137.0,122.0 C137.1,125.3 137.5,127.4 137.3,130.0 C137.1,132.6 136.4,134.9 135.8,137.4 C135.2,139.9 134.7,142.3 134.0,144.8 C133.3,147.3 132.4,149.3 131.5,152.2 C130.6,155.1 129.4,159.0 128.7,162.1 C128.0,165.2 127.3,167.4 127.2,170.7 C127.1,174.0 127.1,178.7 127.8,181.8 C128.5,184.9 129.8,186.9 131.5,189.2 C133.2,191.5 135.9,194.2 138.3,195.4 C140.7,196.6 143.6,197.0 145.7,196.6 C147.8,196.2 149.2,194.6 150.6,192.9 C152.0,191.2 152.7,188.3 154.3,186.7 C156.0,185.0 157.8,183.3 160.5,183.0 C163.2,182.7 167.3,183.5 170.4,184.9 C173.5,186.3 176.9,189.1 179.0,191.7 C181.1,194.3 182.7,197.2 182.9,200.3 C183.1,203.4 182.1,207.3 180.2,210.1 C178.3,212.9 175.1,215.4 171.6,216.9 C168.1,218.4 163.6,219.1 159.3,219.0 C155.0,218.9 150.0,218.4 145.7,216.3 C141.4,214.2 137.5,210.5 133.4,206.4 C129.3,202.3 124.5,197.2 121.0,191.7 C117.5,186.2 114.0,177.9 112.4,173.2 C110.8,168.5 110.9,166.1 111.2,163.3 C111.5,160.5 112.2,158.2 114.2,156.5 C116.2,154.8 118.9,153.7 123.5,152.8 C128.1,151.9 136.1,151.4 142.0,151.2 C147.9,151.0 155.8,151.1 159.0,151.6 C162.2,152.1 161.7,152.7 161.3,154.0 C160.9,155.3 159.2,157.4 156.8,159.6 C154.4,161.8 150.2,164.9 146.9,167.0 C143.6,169.1 139.8,171.2 137.1,171.9 C134.4,172.6 133.0,172.3 130.9,171.3 C128.8,170.3 126.6,168.0 124.7,165.8 C122.8,163.7 120.8,161.3 119.8,158.4 C118.8,155.5 118.4,151.4 118.6,148.5 C118.8,145.6 119.6,142.9 121.0,141.1 C122.4,139.2 124.9,138.2 127.2,137.4 C129.5,136.6 132.3,136.0 134.6,136.2 C136.9,136.4 139.2,137.2 140.8,138.6 C142.5,140.0 143.5,142.1 144.5,144.8 C145.5,147.5 146.3,151.0 146.9,154.7 C147.5,158.4 147.8,162.9 148.2,167.0 C148.6,171.1 148.8,175.4 149.4,179.3 C150.0,183.2 150.7,187.3 151.9,190.4 C153.1,193.5 155.3,195.7 156.8,197.8 C158.3,199.9 160.3,202.3 161.0,203.2" fill="none" stroke="#1c5a94" stroke-width="2.0" stroke-linecap="round"/>
<path d="M162.6,205.2 L156.6,203.6 L161.2,199.3 Z" fill="#1c5a94"/>
<circle cx="169.4" cy="109.9" r="2.3" fill="#1c5a94"/>
<path d="M195.5,102.8 C198,101 201,100.8 204,101.6 C207,102.5 209.5,103.8 212,104.2 C214.5,104.5 216.5,103.8 217.6,102.4 C218.2,101.5 218.4,100.8 218.5,100.3" fill="none" stroke="#a87a6c" stroke-width="1.3" stroke-linecap="round"/>
<g transform="translate(186.3,104.6) rotate(-13)"><path d="M-11.5,0.5 C-10,-3 -6,-5 -1,-5.6 C4,-6.2 9,-4.5 10.3,-1 C11,2 8,4.8 2,5.4 C-3,5.8 -8,4.5 -11.5,0.5 Z" fill="#4d423d"/><ellipse cx="-5.5" cy="-4.3" rx="1.6" ry="1.2" fill="#5d4c46"/><ellipse cx="-4.8" cy="5" rx="1.5" ry="1.1" fill="#9a6a60"/></g>
<path d="M95.7,592.5 L212.7,592.5 L219.5,609 L92.5,609 Z" fill="#e7e7e3" stroke="#c4c4c0" stroke-width="0.6"/>
<path d="M108.2,590.3 L124.4,590.3 Q125.4,590.3 125.4,592 L125.4,608.6 L107.2,608.6 L107.2,592 Q107.2,590.3 108.2,590.3 Z" fill="#8e9283"/>
<path d="M107.2,599.5 Q116.3,601.5 125.4,599.5 L125.4,608.6 L107.2,608.6 Z" fill="#6f7268"/>
<line x1="116.3" y1="586.5" x2="116.3" y2="590.3" stroke="#9a9a94" stroke-width="0.8"/>
<path d="M129.3,590.3 L142.6,590.3 Q143.6,590.3 143.6,592 L143.6,608.6 L128.3,608.6 L128.3,592 Q128.3,590.3 129.3,590.3 Z" fill="#8e9283"/>
<path d="M128.3,599.5 Q135.9,601.5 143.6,599.5 L143.6,608.6 L128.3,608.6 Z" fill="#6f7268"/>
<line x1="135.9" y1="586.5" x2="135.9" y2="590.3" stroke="#9a9a94" stroke-width="0.8"/>
<path d="M147.5,590.3 L162.8,590.3 Q163.8,590.3 163.8,592 L163.8,608.6 L146.5,608.6 L146.5,592 Q146.5,590.3 147.5,590.3 Z" fill="#8e9283"/>
<path d="M146.5,599.5 Q155.2,601.5 163.8,599.5 L163.8,608.6 L146.5,608.6 Z" fill="#6f7268"/>
<line x1="155.2" y1="586.5" x2="155.2" y2="590.3" stroke="#9a9a94" stroke-width="0.8"/>
<path d="M167.6,590.3 L181.0,590.3 Q182.0,590.3 182.0,592 L182.0,608.6 L166.6,608.6 L166.6,592 Q166.6,590.3 167.6,590.3 Z" fill="#8e9283"/>
<path d="M166.6,599.5 Q174.3,601.5 182.0,599.5 L182.0,608.6 L166.6,608.6 Z" fill="#6f7268"/>
<line x1="174.3" y1="586.5" x2="174.3" y2="590.3" stroke="#9a9a94" stroke-width="0.8"/>
<path d="M184.9,590.3 L201.7,590.3 Q202.7,590.3 202.7,592 L202.7,608.6 L183.9,608.6 L183.9,592 Q183.9,590.3 184.9,590.3 Z" fill="#8e9283"/>
<path d="M183.9,599.5 Q193.3,601.5 202.7,599.5 L202.7,608.6 L183.9,608.6 Z" fill="#6f7268"/>
<line x1="193.3" y1="586.5" x2="193.3" y2="590.3" stroke="#9a9a94" stroke-width="0.8"/>
<path d="M92,506.8 L99.8,503.3 L101.3,504.2 L101.3,609 L92,609 Z" fill="#a9a9a9" stroke="#8a8a8a" stroke-width="0.5"/>
<path d="M92,506.8 L95.5,505.2 L95.5,609 L92,609 Z" fill="#d6d6d6"/>
<path d="M210.7,504.2 L212.2,503.3 L219.3,506.8 L219.3,609 L210.7,609 Z" fill="#a9a9a9" stroke="#8a8a8a" stroke-width="0.5"/>
<path d="M215.6,505 L219.3,506.8 L219.3,609 L215.6,609 Z" fill="#d6d6d6"/>
<path d="M103.8,601 L103.8,530 C103.8,512 107.4,497 108.9,497 C110.4,497 114.1,512 114.1,530 L114.1,601 Z" fill="#9b9b9b" stroke="#7c7c7c" stroke-width="0.5"/>
<path d="M103.8,601 L103.8,530 C103.8,514 106.9,500 107.7,498.5 C106.8,512 106.0,522 106.0,530 L106.0,601 Z" fill="#d9d9d9"/>
<ellipse cx="108.9" cy="498.3" rx="1.6" ry="1.3" fill="#6a6a6a"/>
<path d="M196.5,601 L196.5,530 C196.5,512 199.6,497 201.1,497 C202.6,497 205.6,512 205.6,530 L205.6,601 Z" fill="#9b9b9b" stroke="#7c7c7c" stroke-width="0.5"/>
<path d="M205.6,601 L205.6,530 C205.6,514 203.1,500 202.2,498.5 C202.6,512 203.4,522 203.4,530 L203.4,601 Z" fill="#d9d9d9"/>
<ellipse cx="201.1" cy="498.3" rx="1.6" ry="1.3" fill="#6a6a6a"/>
<rect x="109.2" y="532.0" width="91.9" height="16.6" fill="#3d3d3d"/>
<path d="M124.6,609 L124.6,503 C124.6,499 126.7,497 127.7,497 C128.7,497 130.8,499 130.8,503 L130.8,609 Z" fill="#a4a4a4" stroke="#8c8c8c" stroke-width="0.5"/>
<rect x="125.1" y="500" width="2.6" height="109" fill="#e2e2e2"/>
<ellipse cx="127.7" cy="498" rx="2.7" ry="1.1" fill="#777"/>
<path d="M142.8,609 L142.8,503 C142.8,499 143.5,497 144.5,497 C145.5,497 146.2,499 146.2,503 L146.2,609 Z" fill="#c4c4c4" stroke="#8c8c8c" stroke-width="0.5"/>
<rect x="143.3" y="500" width="1.4" height="109" fill="#e2e2e2"/>
<ellipse cx="144.5" cy="498" rx="1.3" ry="1.1" fill="#777"/>
<path d="M163.1,609 L163.1,503 C163.1,499 163.8,497 164.8,497 C165.8,497 166.6,499 166.6,503 L166.6,609 Z" fill="#c4c4c4" stroke="#8c8c8c" stroke-width="0.5"/>
<rect x="163.6" y="500" width="1.5" height="109" fill="#e2e2e2"/>
<ellipse cx="164.8" cy="498" rx="1.4" ry="1.1" fill="#777"/>
<path d="M179.3,609 L179.3,503 C179.3,499 181.1,497 182.1,497 C183.1,497 184.9,499 184.9,503 L184.9,609 Z" fill="#a4a4a4" stroke="#8c8c8c" stroke-width="0.5"/>
<rect x="179.8" y="500" width="2.4" height="109" fill="#e2e2e2"/>
<ellipse cx="182.1" cy="498" rx="2.4" ry="1.1" fill="#777"/>
<rect x="98.2" y="538.2" width="5.5" height="3.2" fill="#e2e2dc" stroke="#b0b0aa" stroke-width="0.4"/>
<rect x="206.5" y="536.6" width="4.5" height="5.2" fill="#e4e4de" stroke="#b0b0aa" stroke-width="0.4"/>
<rect x="211" y="535.1" width="3.3" height="8.6" fill="#dcdcd4" stroke="#a8a8a0" stroke-width="0.4"/>
<path d="M218.8,528 L222.9,533.6 L227,533.6 Q228.6,533.6 228.6,535.5 L228.6,542.8 Q228.6,544.7 227,544.7 L222.9,544.7 L218.8,549.8 Z" fill="#353535"/>
<path d="M117.3,547.3 C118.0,553.0 115.0,557.0 115.3,561.3 S114.0,565.0 113.9,566.8" fill="none" stroke="#cf8f86" stroke-width="1.3" stroke-linecap="round"/>
<path d="M117.3,525.0 C118.8,525.0 119.9,528.0 120.5,530.5 C121.9,531.5 122.7,533.5 122.7,536.0 L122.9,543.3 C122.9,546.8 119.8,548.3 117.3,548.3 C114.8,548.3 111.7,546.8 111.7,543.3 L111.9,536.0 C111.9,533.5 112.7,531.5 114.1,530.5 C114.7,528.0 115.8,525.0 117.3,525.0 Z" fill="#4a3e3a"/>
<path d="M113.9,530.2 l-1.3,0.2 M120.7,530.2 l1.3,0.2" stroke="#a8706a" stroke-width="1.4" stroke-linecap="round"/>
<path d="M111.9,539.4 l-1.2,1.2 M122.7,539.4 l1.2,1.2 M112.7,546.8 l-1.4,0.8 M121.9,546.8 l1.4,0.8" stroke="#b07870" stroke-width="1.1" stroke-linecap="round"/>
<path d="M135.5,550.7 C135.0,554.0 133.2,556.0 134.5,559.5 S138.5,567.0 137.9,570.9" fill="none" stroke="#cf8f86" stroke-width="1.3" stroke-linecap="round"/>
<path d="M135.5,529.1 C137.0,529.1 138.1,532.1 138.7,534.6 C140.1,535.6 140.6,537.6 140.6,540.1 L140.8,546.7 C140.8,550.2 138.0,551.7 135.5,551.7 C133.0,551.7 130.2,550.2 130.2,546.7 L130.4,540.1 C130.4,537.6 130.9,535.6 132.3,534.6 C132.9,532.1 134.0,529.1 135.5,529.1 Z" fill="#4a3e3a"/>
<path d="M132.1,534.3 l-1.3,0.2 M138.9,534.3 l1.3,0.2" stroke="#a8706a" stroke-width="1.4" stroke-linecap="round"/>
<path d="M130.4,543.1 l-1.2,1.2 M140.6,543.1 l1.2,1.2 M131.2,550.2 l-1.4,0.8 M139.8,550.2 l1.4,0.8" stroke="#b07870" stroke-width="1.1" stroke-linecap="round"/>
<path d="M155.3,547.3 C152.5,551.0 150.5,554.0 151.5,558.0 S153.8,564.0 152.3,566.1" fill="none" stroke="#cf8f86" stroke-width="1.3" stroke-linecap="round"/>
<path d="M155.3,524.3 C156.8,524.3 157.9,527.3 158.5,529.8 C159.9,530.8 160.7,532.8 160.7,535.3 L160.9,543.3 C160.9,546.8 157.8,548.3 155.3,548.3 C152.8,548.3 149.7,546.8 149.7,543.3 L149.9,535.3 C149.9,532.8 150.7,530.8 152.1,529.8 C152.7,527.3 153.8,524.3 155.3,524.3 Z" fill="#4a3e3a"/>
<path d="M151.9,529.5 l-1.3,0.2 M158.7,529.5 l1.3,0.2" stroke="#a8706a" stroke-width="1.4" stroke-linecap="round"/>
<path d="M149.9,539.2 l-1.2,1.2 M160.7,539.2 l1.2,1.2 M150.7,546.8 l-1.4,0.8 M159.9,546.8 l1.4,0.8" stroke="#b07870" stroke-width="1.1" stroke-linecap="round"/>
<path d="M173.5,547.3 C174.5,551.0 176.0,555.0 174.5,559.0 S172.2,564.0 174.2,566.8" fill="none" stroke="#cf8f86" stroke-width="1.3" stroke-linecap="round"/>
<path d="M173.5,524.6 C175.0,524.6 176.1,527.6 176.7,530.1 C178.1,531.1 178.9,533.1 178.9,535.6 L179.1,543.3 C179.1,546.8 176.0,548.3 173.5,548.3 C171.0,548.3 167.9,546.8 167.9,543.3 L168.1,535.6 C168.1,533.1 168.9,531.1 170.3,530.1 C170.9,527.6 172.0,524.6 173.5,524.6 Z" fill="#4a3e3a"/>
<path d="M170.1,529.8 l-1.3,0.2 M176.9,529.8 l1.3,0.2" stroke="#a8706a" stroke-width="1.4" stroke-linecap="round"/>
<path d="M168.1,539.3 l-1.2,1.2 M178.9,539.3 l1.2,1.2 M168.9,546.8 l-1.4,0.8 M178.1,546.8 l1.4,0.8" stroke="#b07870" stroke-width="1.1" stroke-linecap="round"/>
<path d="M194.7,543.9 C196.0,549.0 195.5,553.0 194.5,556.0 S194.0,561.0 195.4,563.4" fill="none" stroke="#cf8f86" stroke-width="1.3" stroke-linecap="round"/>
<path d="M194.7,520.9 C196.2,520.9 197.3,523.9 197.9,526.4 C199.3,527.4 200.3,529.4 200.3,531.9 L200.5,539.9 C200.5,543.4 197.2,544.9 194.7,544.9 C192.2,544.9 188.9,543.4 188.9,539.9 L189.1,531.9 C189.1,529.4 190.1,527.4 191.5,526.4 C192.1,523.9 193.2,520.9 194.7,520.9 Z" fill="#4a3e3a"/>
<path d="M191.3,526.1 l-1.3,0.2 M198.1,526.1 l1.3,0.2" stroke="#a8706a" stroke-width="1.4" stroke-linecap="round"/>
<path d="M189.1,535.8 l-1.2,1.2 M200.3,535.8 l1.2,1.2 M189.9,543.4 l-1.4,0.8 M199.5,543.4 l1.4,0.8" stroke="#b07870" stroke-width="1.1" stroke-linecap="round"/>
<path d="M91.5,609.1 L220.3,609.1 L220.3,641.2 L91.5,641.2 Z" fill="#ededea" stroke="#a3a6ad" stroke-width="0.9"/>
<line x1="91.5" y1="612" x2="220.3" y2="612" stroke="#d4d4d0" stroke-width="0.8"/>
<path d="M96.6,613.2 L215.5,613.2 L219.2,639 L92.8,639 Z" fill="#f2f2ef" stroke="#b5b7bc" stroke-width="0.7"/>
<rect x="129.2" y="620.1" width="52.8" height="11.5" rx="1.2" fill="#5a648c" stroke="#434c70" stroke-width="0.6"/>
<path d="M137,631.3 L150,620.4 L165,620.4 L152,631.3 Z" fill="#7b86ad" opacity="0.75"/>
<ellipse cx="120.6" cy="621.6" rx="5.6" ry="1.9" fill="#5a648c"/>
<ellipse cx="120.6" cy="629.7" rx="5.6" ry="1.9" fill="#5a648c"/>
<ellipse cx="190.6" cy="621.6" rx="5.6" ry="1.9" fill="#5a648c"/>
<ellipse cx="190.6" cy="629.7" rx="5.6" ry="1.9" fill="#5a648c"/>
<path d="M70.4,777.4 L77.0,826 Q78.3,832.9 85,832.9 L218,832.9 Q224,832.9 225,826 L228.4,777.4" fill="none" stroke="#a8a8a8" stroke-width="1.1"/>
<path d="M81.2,810.5 C84,809 87,808.5 90,809.4 C93,810.2 96,808.6 99,809.2 C102,809.9 105,808 108,808.8 C111,809.6 114,810.5 117,809.6 C120,808.8 123,807.6 126,808.6 C129,809.6 132,810.2 135,809.3 C138,808.4 141,807.8 144,808.7 C147,809.6 150,810.6 153,809.6 C156,808.6 159,807.5 162,808.5 C165,809.5 168,810 171,809.2 C174,808.5 177,807.6 180,808.5 C183,809.4 186,810.4 189,809.5 C192,808.6 195,807.4 198,808.4 C201,809.4 204,810.2 207,809.4 C210,808.6 213,808.5 215.5,809.5 C217,810 217.8,810.8 217.9,811.5 L218,826 Q217.6,830.4 212,830.4 L87,830.4 Q81.4,830.4 81.2,826 Z" fill="#c4a174"/>
<path d="M136,812.6 L168.1,812.6 L177,824.7 L125.3,824.7 Z" fill="#909aa2"/>
<rect x="125.3" y="824.7" width="51.7" height="3.1" fill="#6c747b"/>
<rect x="149.5" y="692.2" width="3.4" height="120" fill="#c3c7b5"/>
<rect x="152.3" y="692.2" width="0.6" height="120" fill="#a6aa98"/>
<path d="M151.5,693.0 C148,693 146.2,695.5 146.2,699.3 C146.2,702.5 157.3,703.8 157.3,707.0 C157.3,711.0 146.2,712.5 146.2,716.5 C146.2,719.3 157.3,720.3 157.3,723.1 C157.3,726.8 146.2,728.3 146.2,732.0 C146.2,734.8 157.0,735.8 157.0,738.6 C157.0,743.3 146.4,745.2 146.4,749.9 C146.4,754.5 151.8,756 151.8,763.5" fill="none" stroke="#e8696a" stroke-width="6.4" stroke-linecap="round" stroke-linejoin="round"/>
<path d="M144.3,762.6 L159.2,762.6 L151.7,777.6 Z" fill="#e8696a"/>
<rect x="149.5" y="708.2" width="3.4" height="7.2" fill="#c3c7b5"/>
<rect x="152.3" y="708.2" width="0.6" height="7.2" fill="#a6aa98"/>
<rect x="149.5" y="724.0" width="3.4" height="7.2" fill="#c3c7b5"/>
<rect x="152.3" y="724.0" width="0.6" height="7.2" fill="#a6aa98"/>
<rect x="149.5" y="740.6" width="3.4" height="7.2" fill="#c3c7b5"/>
<rect x="152.3" y="740.6" width="0.6" height="7.2" fill="#a6aa98"/>
<path d="M150.5,792 C149.5,787 148.5,782 147.2,778 C146.5,775.5 146.4,773.5 146.6,772.5" fill="none" stroke="#a97468" stroke-width="1.1" stroke-linecap="round"/>
<path d="M146,793 C148,790.8 154,790.8 156.2,794 C157,798 156.6,803 155.6,807 C155,811 153.8,814 151.4,815.8 C149.4,814 148.4,811 147.4,808 C145.4,804 144.4,797 146,793 Z" fill="#3f3431"/>
<path d="M145.6,794 l-1.5,-0.8 M156,795.5 l1.4,-0.6" stroke="#b07a70" stroke-width="1"/>
</svg>
</body></html>
